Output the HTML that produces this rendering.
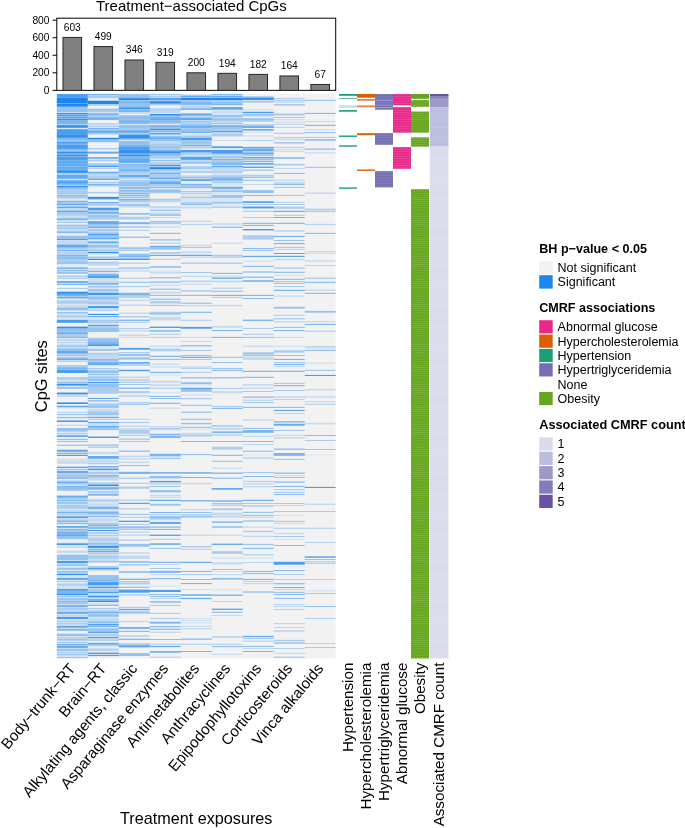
<!DOCTYPE html><html><head><meta charset="utf-8"><style>html,body{margin:0;padding:0;background:#fff;overflow:hidden;width:685px;height:828px;}svg{display:block;will-change:transform;}text{font-family:"Liberation Sans", sans-serif;fill:#000;}</style></head><body>
<svg width="685" height="828" viewBox="0 0 685 828">
<rect width="685" height="828" fill="#fff"/>
<text x="96" y="10.7" font-size="15">Treatment−associated CpGs</text>
<rect x="56.8" y="18.2" width="278.90" height="72.15" fill="none" stroke="#000" stroke-width="1"/>
<line x1="52.6" x2="56.8" y1="90.35" y2="90.35" stroke="#000" stroke-width="1"/>
<text x="49.4" y="94.00" font-size="10.2" text-anchor="end" fill="#1a1a1a">0</text>
<line x1="52.6" x2="56.8" y1="72.80" y2="72.80" stroke="#000" stroke-width="1"/>
<text x="49.4" y="76.45" font-size="10.2" text-anchor="end" fill="#1a1a1a">200</text>
<line x1="52.6" x2="56.8" y1="55.25" y2="55.25" stroke="#000" stroke-width="1"/>
<text x="49.4" y="58.90" font-size="10.2" text-anchor="end" fill="#1a1a1a">400</text>
<line x1="52.6" x2="56.8" y1="37.70" y2="37.70" stroke="#000" stroke-width="1"/>
<text x="49.4" y="41.35" font-size="10.2" text-anchor="end" fill="#1a1a1a">600</text>
<line x1="52.6" x2="56.8" y1="20.15" y2="20.15" stroke="#000" stroke-width="1"/>
<text x="49.4" y="23.80" font-size="10.2" text-anchor="end" fill="#1a1a1a">800</text>
<rect x="62.99" y="37.44" width="18.6" height="52.91" fill="#808080" stroke="#262626" stroke-width="1"/>
<text x="72.29" y="30.84" font-size="10.2" text-anchor="middle">603</text>
<rect x="93.98" y="46.56" width="18.6" height="43.79" fill="#808080" stroke="#262626" stroke-width="1"/>
<text x="103.28" y="39.96" font-size="10.2" text-anchor="middle">499</text>
<rect x="124.97" y="59.99" width="18.6" height="30.36" fill="#808080" stroke="#262626" stroke-width="1"/>
<text x="134.27" y="53.39" font-size="10.2" text-anchor="middle">346</text>
<rect x="155.96" y="62.36" width="18.6" height="27.99" fill="#808080" stroke="#262626" stroke-width="1"/>
<text x="165.26" y="55.76" font-size="10.2" text-anchor="middle">319</text>
<rect x="186.95" y="72.80" width="18.6" height="17.55" fill="#808080" stroke="#262626" stroke-width="1"/>
<text x="196.25" y="66.20" font-size="10.2" text-anchor="middle">200</text>
<rect x="217.94" y="73.33" width="18.6" height="17.02" fill="#808080" stroke="#262626" stroke-width="1"/>
<text x="227.24" y="66.73" font-size="10.2" text-anchor="middle">194</text>
<rect x="248.93" y="74.38" width="18.6" height="15.97" fill="#808080" stroke="#262626" stroke-width="1"/>
<text x="258.23" y="67.78" font-size="10.2" text-anchor="middle">182</text>
<rect x="279.92" y="75.96" width="18.6" height="14.39" fill="#808080" stroke="#262626" stroke-width="1"/>
<text x="289.22" y="69.36" font-size="10.2" text-anchor="middle">164</text>
<rect x="310.91" y="84.47" width="18.6" height="5.88" fill="#808080" stroke="#262626" stroke-width="1"/>
<text x="320.21" y="77.87" font-size="10.2" text-anchor="middle">67</text>
<rect x="56.8" y="93.7" width="278.90" height="564.80" fill="#F2F2F2"/>
<rect x="56.80" y="94.10" width="30.99" height="0.70" fill="#1C86EE"/>
<rect x="56.80" y="94.80" width="30.99" height="2.70" fill="#1C86EE" fill-opacity="0.78"/>
<rect x="56.80" y="97.50" width="30.99" height="5.50" fill="#1C86EE"/>
<rect x="56.80" y="103.00" width="30.99" height="0.70" fill="#1C86EE" fill-opacity="0.67"/>
<rect x="56.80" y="103.70" width="30.99" height="2.90" fill="#1C86EE"/>
<rect x="56.80" y="106.60" width="30.99" height="0.90" fill="#1C86EE" fill-opacity="0.56"/>
<rect x="56.80" y="107.50" width="30.99" height="4.50" fill="#1C86EE" fill-opacity="0.44"/>
<rect x="56.80" y="112.00" width="30.99" height="0.90" fill="#1C86EE" fill-opacity="0.11"/>
<rect x="56.80" y="112.90" width="30.99" height="1.10" fill="#1C86EE" fill-opacity="0.89"/>
<rect x="56.80" y="114.00" width="30.99" height="0.70" fill="#1C86EE" fill-opacity="0.44"/>
<rect x="56.80" y="114.70" width="30.99" height="1.10" fill="#1C86EE" fill-opacity="0.89"/>
<rect x="56.80" y="115.80" width="30.99" height="0.90" fill="#1C86EE" fill-opacity="0.44"/>
<rect x="56.80" y="116.70" width="30.99" height="1.20" fill="#1C86EE" fill-opacity="0.78"/>
<rect x="56.80" y="117.90" width="30.99" height="0.70" fill="#1C86EE" fill-opacity="0.33"/>
<rect x="56.80" y="118.60" width="30.99" height="1.60" fill="#1C86EE" fill-opacity="0.89"/>
<rect x="56.80" y="120.20" width="30.99" height="4.00" fill="#1C86EE" fill-opacity="0.56"/>
<rect x="56.80" y="124.20" width="30.99" height="0.90" fill="#1C86EE" fill-opacity="0.22"/>
<rect x="56.80" y="125.10" width="30.99" height="2.70" fill="#1C86EE" fill-opacity="0.89"/>
<rect x="56.80" y="127.80" width="30.99" height="1.40" fill="#1C86EE" fill-opacity="0.11"/>
<rect x="56.80" y="129.20" width="30.99" height="5.00" fill="#1C86EE" fill-opacity="0.78"/>
<rect x="56.80" y="134.20" width="30.99" height="3.60" fill="#1C86EE" fill-opacity="0.89"/>
<rect x="56.80" y="137.80" width="30.99" height="1.80" fill="#1C86EE" fill-opacity="0.56"/>
<rect x="56.80" y="139.60" width="30.99" height="2.30" fill="#1C86EE" fill-opacity="0.44"/>
<rect x="56.80" y="141.90" width="30.99" height="1.80" fill="#1C86EE" fill-opacity="0.78"/>
<rect x="56.80" y="143.70" width="30.99" height="1.30" fill="#1C86EE" fill-opacity="0.56"/>
<rect x="56.80" y="145.00" width="30.99" height="3.90" fill="#1C86EE" fill-opacity="0.78"/>
<rect x="56.80" y="148.90" width="30.99" height="0.90" fill="#1C86EE" fill-opacity="0.56"/>
<rect x="56.80" y="149.80" width="30.99" height="1.80" fill="#1C86EE" fill-opacity="0.44"/>
<rect x="56.80" y="151.60" width="30.99" height="2.00" fill="#1C86EE" fill-opacity="0.89"/>
<rect x="56.80" y="153.60" width="30.99" height="0.90" fill="#1C86EE" fill-opacity="0.44"/>
<rect x="56.80" y="154.50" width="30.99" height="1.50" fill="#1C86EE" fill-opacity="0.89"/>
<rect x="56.80" y="156.00" width="30.99" height="0.90" fill="#1C86EE" fill-opacity="0.56"/>
<rect x="56.80" y="156.90" width="30.99" height="3.30" fill="#1C86EE" fill-opacity="0.78"/>
<rect x="56.80" y="160.20" width="30.99" height="1.40" fill="#1C86EE" fill-opacity="0.67"/>
<rect x="56.80" y="161.60" width="30.99" height="1.30" fill="#1C86EE" fill-opacity="0.78"/>
<rect x="56.80" y="162.90" width="30.99" height="1.40" fill="#1C86EE" fill-opacity="0.56"/>
<rect x="56.80" y="164.30" width="30.99" height="1.30" fill="#1C86EE" fill-opacity="0.89"/>
<rect x="56.80" y="165.60" width="30.99" height="1.00" fill="#1C86EE" fill-opacity="0.56"/>
<rect x="56.80" y="166.60" width="30.99" height="1.80" fill="#1C86EE" fill-opacity="0.67"/>
<rect x="56.80" y="168.40" width="30.99" height="0.90" fill="#1C86EE" fill-opacity="0.89"/>
<rect x="56.80" y="169.30" width="30.99" height="0.90" fill="#1C86EE" fill-opacity="0.56"/>
<rect x="56.80" y="170.20" width="30.99" height="2.70" fill="#1C86EE" fill-opacity="0.89"/>
<rect x="56.80" y="172.90" width="30.99" height="0.90" fill="#1C86EE" fill-opacity="0.33"/>
<rect x="56.80" y="173.80" width="30.99" height="0.90" fill="#1C86EE" fill-opacity="0.22"/>
<rect x="56.80" y="174.70" width="30.99" height="4.10" fill="#1C86EE" fill-opacity="0.67"/>
<rect x="56.80" y="178.80" width="30.99" height="1.30" fill="#1C86EE" fill-opacity="0.11"/>
<rect x="56.80" y="180.10" width="30.99" height="1.80" fill="#1C86EE" fill-opacity="0.67"/>
<rect x="56.80" y="181.90" width="30.99" height="1.40" fill="#1C86EE" fill-opacity="0.78"/>
<rect x="56.80" y="183.30" width="30.99" height="1.40" fill="#1C86EE" fill-opacity="0.67"/>
<rect x="56.80" y="184.70" width="30.99" height="1.10" fill="#1C86EE" fill-opacity="0.22"/>
<rect x="56.80" y="185.80" width="30.99" height="1.30" fill="#1C86EE" fill-opacity="0.89"/>
<rect x="56.80" y="187.10" width="30.99" height="1.60" fill="#1C86EE" fill-opacity="0.56"/>
<rect x="56.80" y="188.70" width="30.99" height="4.60" fill="#1C86EE" fill-opacity="0.33"/>
<rect x="56.80" y="193.30" width="30.99" height="0.90" fill="#1C86EE" fill-opacity="0.44"/>
<rect x="56.80" y="194.20" width="30.99" height="0.90" fill="#1C86EE" fill-opacity="0.11"/>
<rect x="56.80" y="195.10" width="30.99" height="0.90" fill="#1C86EE" fill-opacity="0.56"/>
<rect x="56.80" y="196.00" width="30.99" height="1.30" fill="#1C86EE" fill-opacity="0.33"/>
<rect x="56.80" y="197.30" width="30.99" height="0.90" fill="#1C86EE" fill-opacity="0.44"/>
<rect x="56.80" y="198.20" width="30.99" height="2.70" fill="#1C86EE" fill-opacity="0.11"/>
<rect x="56.80" y="200.90" width="30.99" height="1.40" fill="#1C86EE" fill-opacity="0.56"/>
<rect x="56.80" y="202.30" width="30.99" height="1.40" fill="#1C86EE" fill-opacity="0.33"/>
<rect x="56.80" y="203.70" width="30.99" height="1.30" fill="#1C86EE" fill-opacity="0.67"/>
<rect x="56.80" y="205.00" width="30.99" height="1.60" fill="#1C86EE" fill-opacity="0.22"/>
<rect x="56.80" y="206.60" width="30.99" height="1.40" fill="#1C86EE" fill-opacity="0.67"/>
<rect x="56.80" y="208.00" width="30.99" height="2.70" fill="#1C86EE" fill-opacity="0.22"/>
<rect x="56.80" y="210.70" width="30.99" height="1.40" fill="#1C86EE" fill-opacity="0.67"/>
<rect x="56.80" y="212.10" width="30.99" height="3.60" fill="#1C86EE" fill-opacity="0.33"/>
<rect x="56.80" y="215.70" width="30.99" height="0.90" fill="#1C86EE" fill-opacity="0.11"/>
<rect x="56.80" y="216.60" width="30.99" height="1.80" fill="#1C86EE" fill-opacity="0.22"/>
<rect x="56.80" y="218.40" width="30.99" height="1.80" fill="#1C86EE" fill-opacity="0.56"/>
<rect x="56.80" y="220.20" width="30.99" height="1.80" fill="#1C86EE" fill-opacity="0.11"/>
<rect x="56.80" y="222.00" width="30.99" height="0.90" fill="#1C86EE" fill-opacity="0.44"/>
<rect x="56.80" y="224.70" width="30.99" height="1.40" fill="#1C86EE" fill-opacity="0.44"/>
<rect x="56.80" y="226.10" width="30.99" height="1.30" fill="#1C86EE" fill-opacity="0.22"/>
<rect x="56.80" y="227.40" width="30.99" height="1.40" fill="#1C86EE" fill-opacity="0.44"/>
<rect x="56.80" y="228.80" width="30.99" height="0.90" fill="#1C86EE" fill-opacity="0.11"/>
<rect x="56.80" y="229.70" width="30.99" height="1.80" fill="#1C86EE" fill-opacity="0.22"/>
<rect x="56.80" y="231.50" width="30.99" height="1.40" fill="#1C86EE" fill-opacity="0.56"/>
<rect x="56.80" y="232.90" width="30.99" height="1.30" fill="#1C86EE" fill-opacity="0.11"/>
<rect x="56.80" y="235.10" width="30.99" height="1.40" fill="#1C86EE" fill-opacity="0.22"/>
<rect x="56.80" y="236.50" width="30.99" height="1.30" fill="#1C86EE" fill-opacity="0.56"/>
<rect x="56.80" y="237.80" width="30.99" height="1.00" fill="#1C86EE" fill-opacity="0.33"/>
<rect x="56.80" y="238.80" width="30.99" height="1.30" fill="#1C86EE" fill-opacity="0.78"/>
<rect x="56.80" y="240.10" width="30.99" height="0.90" fill="#1C86EE" fill-opacity="0.11"/>
<rect x="56.80" y="241.00" width="30.99" height="3.60" fill="#1C86EE" fill-opacity="0.22"/>
<rect x="56.80" y="244.60" width="30.99" height="2.80" fill="#1C86EE" fill-opacity="0.67"/>
<rect x="56.80" y="247.40" width="30.99" height="1.30" fill="#1C86EE" fill-opacity="0.44"/>
<rect x="56.80" y="248.70" width="30.99" height="0.90" fill="#1C86EE" fill-opacity="0.11"/>
<rect x="56.80" y="249.60" width="30.99" height="1.40" fill="#1C86EE" fill-opacity="0.56"/>
<rect x="56.80" y="251.00" width="30.99" height="1.30" fill="#1C86EE" fill-opacity="0.22"/>
<rect x="56.80" y="252.30" width="30.99" height="1.40" fill="#1C86EE" fill-opacity="0.33"/>
<rect x="56.80" y="253.70" width="30.99" height="0.90" fill="#1C86EE" fill-opacity="0.11"/>
<rect x="56.80" y="254.60" width="30.99" height="1.80" fill="#1C86EE" fill-opacity="0.56"/>
<rect x="56.80" y="256.40" width="30.99" height="1.60" fill="#1C86EE" fill-opacity="0.44"/>
<rect x="56.80" y="258.00" width="30.99" height="0.90" fill="#1C86EE" fill-opacity="0.56"/>
<rect x="56.80" y="258.90" width="30.99" height="3.20" fill="#1C86EE" fill-opacity="0.33"/>
<rect x="56.80" y="262.10" width="30.99" height="1.80" fill="#1C86EE" fill-opacity="0.44"/>
<rect x="56.80" y="263.90" width="30.99" height="1.30" fill="#1C86EE" fill-opacity="0.11"/>
<rect x="56.80" y="266.60" width="30.99" height="0.90" fill="#1C86EE" fill-opacity="0.22"/>
<rect x="56.80" y="267.50" width="30.99" height="1.40" fill="#1C86EE" fill-opacity="0.56"/>
<rect x="56.80" y="268.90" width="30.99" height="0.90" fill="#1C86EE" fill-opacity="0.11"/>
<rect x="56.80" y="269.80" width="30.99" height="1.30" fill="#1C86EE" fill-opacity="0.44"/>
<rect x="56.80" y="271.10" width="30.99" height="0.90" fill="#1C86EE" fill-opacity="0.22"/>
<rect x="56.80" y="272.00" width="30.99" height="1.80" fill="#1C86EE" fill-opacity="0.44"/>
<rect x="56.80" y="275.60" width="30.99" height="1.40" fill="#1C86EE" fill-opacity="0.33"/>
<rect x="56.80" y="277.00" width="30.99" height="0.90" fill="#1C86EE" fill-opacity="0.11"/>
<rect x="56.80" y="277.90" width="30.99" height="1.10" fill="#1C86EE" fill-opacity="0.33"/>
<rect x="56.80" y="281.10" width="30.99" height="1.80" fill="#1C86EE" fill-opacity="0.67"/>
<rect x="56.80" y="282.90" width="30.99" height="0.90" fill="#1C86EE" fill-opacity="0.11"/>
<rect x="56.80" y="283.80" width="30.99" height="1.20" fill="#1C86EE" fill-opacity="0.56"/>
<rect x="56.80" y="287.90" width="30.99" height="1.10" fill="#1C86EE" fill-opacity="0.33"/>
<rect x="56.80" y="291.70" width="30.99" height="2.10" fill="#1C86EE" fill-opacity="0.89"/>
<rect x="56.80" y="293.80" width="30.99" height="2.00" fill="#1C86EE" fill-opacity="0.67"/>
<rect x="56.80" y="295.80" width="30.99" height="0.90" fill="#1C86EE" fill-opacity="0.22"/>
<rect x="56.80" y="296.70" width="30.99" height="1.60" fill="#1C86EE" fill-opacity="0.67"/>
<rect x="56.80" y="298.30" width="30.99" height="2.20" fill="#1C86EE" fill-opacity="0.11"/>
<rect x="56.80" y="300.50" width="30.99" height="3.20" fill="#1C86EE" fill-opacity="0.33"/>
<rect x="56.80" y="303.70" width="30.99" height="1.40" fill="#1C86EE" fill-opacity="0.11"/>
<rect x="56.80" y="305.10" width="30.99" height="1.30" fill="#1C86EE" fill-opacity="0.22"/>
<rect x="56.80" y="306.40" width="30.99" height="0.90" fill="#1C86EE" fill-opacity="0.11"/>
<rect x="56.80" y="307.30" width="30.99" height="3.20" fill="#1C86EE" fill-opacity="0.44"/>
<rect x="56.80" y="311.90" width="30.99" height="1.10" fill="#1C86EE" fill-opacity="0.44"/>
<rect x="56.80" y="313.00" width="30.99" height="0.90" fill="#1C86EE" fill-opacity="0.33"/>
<rect x="56.80" y="313.90" width="30.99" height="1.40" fill="#1C86EE" fill-opacity="0.11"/>
<rect x="56.80" y="315.30" width="30.99" height="2.20" fill="#1C86EE" fill-opacity="0.33"/>
<rect x="56.80" y="317.50" width="30.99" height="2.30" fill="#1C86EE" fill-opacity="0.11"/>
<rect x="56.80" y="319.80" width="30.99" height="3.00" fill="#1C86EE" fill-opacity="0.78"/>
<rect x="56.80" y="326.60" width="30.99" height="1.80" fill="#1C86EE" fill-opacity="0.89"/>
<rect x="56.80" y="328.40" width="30.99" height="4.10" fill="#1C86EE" fill-opacity="0.44"/>
<rect x="56.80" y="332.50" width="30.99" height="1.50" fill="#1C86EE" fill-opacity="0.67"/>
<rect x="56.80" y="334.00" width="30.99" height="2.70" fill="#1C86EE" fill-opacity="0.33"/>
<rect x="56.80" y="336.70" width="30.99" height="1.20" fill="#1C86EE" fill-opacity="0.56"/>
<rect x="56.80" y="337.90" width="30.99" height="1.30" fill="#1C86EE" fill-opacity="0.11"/>
<rect x="56.80" y="339.20" width="30.99" height="1.90" fill="#1C86EE" fill-opacity="0.22"/>
<rect x="56.80" y="341.10" width="30.99" height="0.90" fill="#1C86EE" fill-opacity="0.11"/>
<rect x="56.80" y="342.00" width="30.99" height="0.90" fill="#1C86EE" fill-opacity="0.22"/>
<rect x="56.80" y="342.90" width="30.99" height="1.30" fill="#1C86EE" fill-opacity="0.11"/>
<rect x="56.80" y="344.20" width="30.99" height="1.40" fill="#1C86EE" fill-opacity="0.22"/>
<rect x="56.80" y="345.60" width="30.99" height="1.30" fill="#1C86EE" fill-opacity="0.44"/>
<rect x="56.80" y="346.90" width="30.99" height="0.90" fill="#1C86EE" fill-opacity="0.11"/>
<rect x="56.80" y="347.80" width="30.99" height="1.00" fill="#1C86EE" fill-opacity="0.33"/>
<rect x="56.80" y="348.80" width="30.99" height="1.80" fill="#1C86EE" fill-opacity="0.44"/>
<rect x="56.80" y="350.60" width="30.99" height="3.10" fill="#1C86EE" fill-opacity="0.67"/>
<rect x="56.80" y="353.70" width="30.99" height="0.90" fill="#1C86EE" fill-opacity="0.11"/>
<rect x="56.80" y="354.60" width="30.99" height="1.40" fill="#1C86EE" fill-opacity="0.44"/>
<rect x="56.80" y="356.00" width="30.99" height="0.90" fill="#1C86EE" fill-opacity="0.11"/>
<rect x="56.80" y="356.90" width="30.99" height="1.40" fill="#1C86EE" fill-opacity="0.33"/>
<rect x="56.80" y="358.30" width="30.99" height="1.80" fill="#1C86EE" fill-opacity="0.67"/>
<rect x="56.80" y="360.10" width="30.99" height="0.90" fill="#1C86EE" fill-opacity="0.11"/>
<rect x="56.80" y="361.00" width="30.99" height="0.90" fill="#1C86EE" fill-opacity="0.33"/>
<rect x="56.80" y="365.00" width="30.99" height="2.30" fill="#1C86EE" fill-opacity="0.33"/>
<rect x="56.80" y="367.30" width="30.99" height="1.80" fill="#1C86EE" fill-opacity="0.56"/>
<rect x="56.80" y="369.10" width="30.99" height="0.90" fill="#1C86EE" fill-opacity="0.44"/>
<rect x="56.80" y="370.00" width="30.99" height="3.00" fill="#1C86EE" fill-opacity="0.78"/>
<rect x="56.80" y="377.10" width="30.99" height="2.70" fill="#1C86EE" fill-opacity="0.33"/>
<rect x="56.80" y="379.80" width="30.99" height="1.80" fill="#1C86EE" fill-opacity="0.11"/>
<rect x="56.80" y="381.60" width="30.99" height="1.30" fill="#1C86EE" fill-opacity="0.44"/>
<rect x="56.80" y="382.90" width="30.99" height="0.90" fill="#1C86EE" fill-opacity="0.22"/>
<rect x="56.80" y="383.80" width="30.99" height="1.80" fill="#1C86EE" fill-opacity="0.89"/>
<rect x="56.80" y="385.60" width="30.99" height="1.40" fill="#1C86EE" fill-opacity="0.11"/>
<rect x="56.80" y="387.00" width="30.99" height="1.80" fill="#1C86EE" fill-opacity="0.44"/>
<rect x="56.80" y="392.60" width="30.99" height="1.60" fill="#1C86EE" fill-opacity="0.89"/>
<rect x="56.80" y="394.20" width="30.99" height="2.80" fill="#1C86EE" fill-opacity="0.22"/>
<rect x="56.80" y="402.40" width="30.99" height="1.60" fill="#1C86EE" fill-opacity="0.89"/>
<rect x="56.80" y="405.80" width="30.99" height="1.10" fill="#1C86EE" fill-opacity="0.78"/>
<rect x="56.80" y="406.90" width="30.99" height="1.40" fill="#1C86EE" fill-opacity="0.22"/>
<rect x="56.80" y="411.90" width="30.99" height="0.90" fill="#1C86EE" fill-opacity="0.33"/>
<rect x="56.80" y="414.00" width="30.99" height="1.10" fill="#1C86EE" fill-opacity="0.44"/>
<rect x="56.80" y="416.90" width="30.99" height="1.30" fill="#1C86EE" fill-opacity="0.44"/>
<rect x="56.80" y="420.50" width="30.99" height="1.40" fill="#1C86EE" fill-opacity="0.89"/>
<rect x="56.80" y="424.80" width="30.99" height="0.90" fill="#1C86EE" fill-opacity="0.33"/>
<rect x="56.80" y="428.00" width="30.99" height="3.60" fill="#1C86EE" fill-opacity="0.44"/>
<rect x="56.80" y="432.80" width="30.99" height="1.20" fill="#1C86EE" fill-opacity="0.33"/>
<rect x="56.80" y="434.00" width="30.99" height="1.20" fill="#1C86EE" fill-opacity="0.11"/>
<rect x="56.80" y="435.20" width="30.99" height="1.80" fill="#1C86EE" fill-opacity="0.67"/>
<rect x="56.80" y="438.80" width="30.99" height="1.20" fill="#1C86EE" fill-opacity="0.44"/>
<rect x="56.80" y="440.90" width="30.99" height="1.10" fill="#1C86EE" fill-opacity="0.44"/>
<rect x="56.80" y="444.70" width="30.99" height="1.10" fill="#1C86EE" fill-opacity="0.44"/>
<rect x="56.80" y="449.70" width="30.99" height="2.10" fill="#1C86EE" fill-opacity="0.67"/>
<rect x="56.80" y="451.80" width="30.99" height="1.10" fill="#1C86EE" fill-opacity="0.11"/>
<rect x="56.80" y="452.90" width="30.99" height="0.90" fill="#1C86EE" fill-opacity="0.67"/>
<rect x="56.80" y="453.80" width="30.99" height="1.10" fill="#1C86EE" fill-opacity="0.11"/>
<rect x="56.80" y="454.90" width="30.99" height="1.10" fill="#1C86EE" fill-opacity="0.78"/>
<rect x="56.80" y="458.80" width="30.99" height="0.90" fill="#1C86EE" fill-opacity="0.22"/>
<rect x="56.80" y="459.70" width="30.99" height="1.30" fill="#1C86EE" fill-opacity="0.11"/>
<rect x="56.80" y="461.00" width="30.99" height="2.70" fill="#1C86EE" fill-opacity="0.22"/>
<rect x="56.80" y="466.60" width="30.99" height="1.40" fill="#1C86EE" fill-opacity="0.67"/>
<rect x="56.80" y="468.00" width="30.99" height="1.20" fill="#1C86EE" fill-opacity="0.11"/>
<rect x="56.80" y="469.20" width="30.99" height="0.90" fill="#1C86EE" fill-opacity="0.44"/>
<rect x="56.80" y="470.10" width="30.99" height="0.90" fill="#1C86EE" fill-opacity="0.11"/>
<rect x="56.80" y="471.00" width="30.99" height="2.20" fill="#1C86EE" fill-opacity="0.67"/>
<rect x="56.80" y="473.20" width="30.99" height="1.40" fill="#1C86EE" fill-opacity="0.22"/>
<rect x="56.80" y="474.60" width="30.99" height="1.80" fill="#1C86EE" fill-opacity="0.44"/>
<rect x="56.80" y="476.40" width="30.99" height="0.90" fill="#1C86EE" fill-opacity="0.22"/>
<rect x="56.80" y="477.30" width="30.99" height="0.70" fill="#1C86EE" fill-opacity="0.67"/>
<rect x="56.80" y="478.00" width="30.99" height="0.90" fill="#1C86EE" fill-opacity="0.44"/>
<rect x="56.80" y="478.90" width="30.99" height="1.40" fill="#1C86EE" fill-opacity="0.11"/>
<rect x="56.80" y="480.30" width="30.99" height="1.30" fill="#1C86EE" fill-opacity="0.22"/>
<rect x="56.80" y="481.60" width="30.99" height="1.40" fill="#1C86EE" fill-opacity="0.67"/>
<rect x="56.80" y="483.00" width="30.99" height="1.80" fill="#1C86EE" fill-opacity="0.33"/>
<rect x="56.80" y="484.80" width="30.99" height="1.20" fill="#1C86EE" fill-opacity="0.11"/>
<rect x="56.80" y="486.00" width="30.99" height="1.50" fill="#1C86EE" fill-opacity="0.56"/>
<rect x="56.80" y="487.50" width="30.99" height="3.20" fill="#1C86EE" fill-opacity="0.44"/>
<rect x="56.80" y="495.60" width="30.99" height="1.90" fill="#1C86EE" fill-opacity="0.67"/>
<rect x="56.80" y="497.50" width="30.99" height="1.30" fill="#1C86EE" fill-opacity="0.44"/>
<rect x="56.80" y="498.80" width="30.99" height="0.90" fill="#1C86EE" fill-opacity="0.11"/>
<rect x="56.80" y="499.70" width="30.99" height="1.40" fill="#1C86EE" fill-opacity="0.56"/>
<rect x="56.80" y="501.10" width="30.99" height="0.90" fill="#1C86EE" fill-opacity="0.11"/>
<rect x="56.80" y="502.00" width="30.99" height="1.80" fill="#1C86EE" fill-opacity="0.44"/>
<rect x="56.80" y="503.80" width="30.99" height="0.90" fill="#1C86EE" fill-opacity="0.11"/>
<rect x="56.80" y="504.70" width="30.99" height="4.10" fill="#1C86EE" fill-opacity="0.33"/>
<rect x="56.80" y="508.80" width="30.99" height="1.30" fill="#1C86EE" fill-opacity="0.11"/>
<rect x="56.80" y="510.10" width="30.99" height="1.80" fill="#1C86EE" fill-opacity="0.22"/>
<rect x="56.80" y="511.90" width="30.99" height="1.40" fill="#1C86EE" fill-opacity="0.56"/>
<rect x="56.80" y="513.30" width="30.99" height="3.20" fill="#1C86EE" fill-opacity="0.22"/>
<rect x="56.80" y="516.50" width="30.99" height="1.30" fill="#1C86EE" fill-opacity="0.89"/>
<rect x="56.80" y="517.80" width="30.99" height="2.70" fill="#1C86EE" fill-opacity="0.22"/>
<rect x="56.80" y="520.50" width="30.99" height="1.40" fill="#1C86EE" fill-opacity="0.56"/>
<rect x="56.80" y="521.90" width="30.99" height="0.90" fill="#1C86EE" fill-opacity="0.11"/>
<rect x="56.80" y="522.80" width="30.99" height="0.90" fill="#1C86EE" fill-opacity="0.67"/>
<rect x="56.80" y="523.70" width="30.99" height="0.90" fill="#1C86EE" fill-opacity="0.11"/>
<rect x="56.80" y="526.00" width="30.99" height="1.80" fill="#1C86EE" fill-opacity="0.67"/>
<rect x="56.80" y="527.80" width="30.99" height="1.10" fill="#1C86EE" fill-opacity="0.11"/>
<rect x="56.80" y="528.90" width="30.99" height="1.10" fill="#1C86EE" fill-opacity="0.56"/>
<rect x="56.80" y="530.00" width="30.99" height="1.40" fill="#1C86EE" fill-opacity="0.33"/>
<rect x="56.80" y="531.40" width="30.99" height="3.60" fill="#1C86EE" fill-opacity="0.56"/>
<rect x="56.80" y="535.00" width="30.99" height="1.20" fill="#1C86EE" fill-opacity="0.67"/>
<rect x="56.80" y="536.20" width="30.99" height="2.70" fill="#1C86EE" fill-opacity="0.44"/>
<rect x="56.80" y="538.90" width="30.99" height="1.30" fill="#1C86EE" fill-opacity="0.11"/>
<rect x="56.80" y="541.60" width="30.99" height="1.80" fill="#1C86EE" fill-opacity="0.11"/>
<rect x="56.80" y="543.40" width="30.99" height="1.50" fill="#1C86EE" fill-opacity="0.89"/>
<rect x="56.80" y="544.90" width="30.99" height="1.70" fill="#1C86EE" fill-opacity="0.11"/>
<rect x="56.80" y="546.60" width="30.99" height="1.30" fill="#1C86EE" fill-opacity="0.22"/>
<rect x="56.80" y="550.60" width="30.99" height="2.30" fill="#1C86EE" fill-opacity="0.22"/>
<rect x="56.80" y="554.70" width="30.99" height="5.50" fill="#1C86EE" fill-opacity="0.44"/>
<rect x="56.80" y="560.20" width="30.99" height="0.90" fill="#1C86EE" fill-opacity="0.11"/>
<rect x="56.80" y="561.10" width="30.99" height="1.80" fill="#1C86EE" fill-opacity="0.89"/>
<rect x="56.80" y="562.90" width="30.99" height="1.30" fill="#1C86EE" fill-opacity="0.22"/>
<rect x="56.80" y="564.20" width="30.99" height="1.60" fill="#1C86EE" fill-opacity="0.44"/>
<rect x="56.80" y="565.80" width="30.99" height="2.00" fill="#1C86EE" fill-opacity="0.11"/>
<rect x="56.80" y="567.80" width="30.99" height="1.90" fill="#1C86EE" fill-opacity="0.44"/>
<rect x="56.80" y="569.70" width="30.99" height="1.30" fill="#1C86EE" fill-opacity="0.11"/>
<rect x="56.80" y="571.00" width="30.99" height="1.80" fill="#1C86EE" fill-opacity="0.44"/>
<rect x="56.80" y="572.80" width="30.99" height="0.90" fill="#1C86EE" fill-opacity="0.11"/>
<rect x="56.80" y="573.70" width="30.99" height="1.40" fill="#1C86EE" fill-opacity="0.89"/>
<rect x="56.80" y="575.10" width="30.99" height="2.70" fill="#1C86EE" fill-opacity="0.11"/>
<rect x="56.80" y="577.80" width="30.99" height="2.10" fill="#1C86EE" fill-opacity="0.67"/>
<rect x="56.80" y="579.90" width="30.99" height="1.10" fill="#1C86EE" fill-opacity="0.11"/>
<rect x="56.80" y="581.00" width="30.99" height="0.90" fill="#1C86EE" fill-opacity="0.33"/>
<rect x="56.80" y="581.90" width="30.99" height="1.80" fill="#1C86EE" fill-opacity="0.11"/>
<rect x="56.80" y="583.70" width="30.99" height="1.30" fill="#1C86EE" fill-opacity="0.33"/>
<rect x="56.80" y="585.00" width="30.99" height="1.90" fill="#1C86EE" fill-opacity="0.22"/>
<rect x="56.80" y="586.90" width="30.99" height="2.00" fill="#1C86EE" fill-opacity="0.11"/>
<rect x="56.80" y="588.90" width="30.99" height="1.80" fill="#1C86EE" fill-opacity="0.78"/>
<rect x="56.80" y="590.70" width="30.99" height="2.90" fill="#1C86EE" fill-opacity="0.56"/>
<rect x="56.80" y="593.60" width="30.99" height="1.50" fill="#1C86EE" fill-opacity="0.89"/>
<rect x="56.80" y="595.10" width="30.99" height="0.90" fill="#1C86EE" fill-opacity="0.11"/>
<rect x="56.80" y="596.00" width="30.99" height="1.10" fill="#1C86EE" fill-opacity="0.44"/>
<rect x="56.80" y="597.10" width="30.99" height="1.00" fill="#1C86EE" fill-opacity="0.11"/>
<rect x="56.80" y="598.10" width="30.99" height="1.80" fill="#1C86EE" fill-opacity="0.44"/>
<rect x="56.80" y="599.90" width="30.99" height="1.00" fill="#1C86EE" fill-opacity="0.22"/>
<rect x="56.80" y="600.90" width="30.99" height="1.40" fill="#1C86EE" fill-opacity="0.56"/>
<rect x="56.80" y="602.30" width="30.99" height="0.60" fill="#1C86EE" fill-opacity="0.22"/>
<rect x="56.80" y="602.90" width="30.99" height="1.20" fill="#1C86EE" fill-opacity="0.44"/>
<rect x="56.80" y="604.10" width="30.99" height="0.90" fill="#1C86EE" fill-opacity="0.11"/>
<rect x="56.80" y="605.00" width="30.99" height="2.00" fill="#1C86EE" fill-opacity="0.56"/>
<rect x="56.80" y="607.00" width="30.99" height="0.90" fill="#1C86EE" fill-opacity="0.22"/>
<rect x="56.80" y="607.90" width="30.99" height="2.70" fill="#1C86EE" fill-opacity="0.33"/>
<rect x="56.80" y="610.60" width="30.99" height="1.10" fill="#1C86EE" fill-opacity="0.11"/>
<rect x="56.80" y="611.70" width="30.99" height="2.10" fill="#1C86EE" fill-opacity="0.67"/>
<rect x="56.80" y="613.80" width="30.99" height="0.90" fill="#1C86EE" fill-opacity="0.11"/>
<rect x="56.80" y="614.70" width="30.99" height="2.30" fill="#1C86EE" fill-opacity="0.22"/>
<rect x="56.80" y="617.00" width="30.99" height="2.00" fill="#1C86EE" fill-opacity="0.78"/>
<rect x="56.80" y="619.00" width="30.99" height="1.60" fill="#1C86EE" fill-opacity="0.11"/>
<rect x="56.80" y="620.60" width="30.99" height="1.30" fill="#1C86EE" fill-opacity="0.33"/>
<rect x="56.80" y="621.90" width="30.99" height="0.90" fill="#1C86EE" fill-opacity="0.11"/>
<rect x="56.80" y="622.80" width="30.99" height="1.60" fill="#1C86EE" fill-opacity="0.33"/>
<rect x="56.80" y="624.40" width="30.99" height="1.40" fill="#1C86EE" fill-opacity="0.11"/>
<rect x="56.80" y="625.80" width="30.99" height="2.00" fill="#1C86EE" fill-opacity="0.67"/>
<rect x="56.80" y="627.80" width="30.99" height="1.10" fill="#1C86EE" fill-opacity="0.11"/>
<rect x="56.80" y="628.90" width="30.99" height="1.80" fill="#1C86EE" fill-opacity="0.56"/>
<rect x="56.80" y="633.70" width="30.99" height="2.30" fill="#1C86EE" fill-opacity="0.44"/>
<rect x="56.80" y="636.00" width="30.99" height="0.90" fill="#1C86EE" fill-opacity="0.11"/>
<rect x="56.80" y="636.90" width="30.99" height="1.30" fill="#1C86EE" fill-opacity="0.33"/>
<rect x="56.80" y="638.20" width="30.99" height="0.70" fill="#1C86EE" fill-opacity="0.11"/>
<rect x="56.80" y="638.90" width="30.99" height="1.60" fill="#1C86EE" fill-opacity="0.44"/>
<rect x="56.80" y="640.50" width="30.99" height="1.40" fill="#1C86EE" fill-opacity="0.11"/>
<rect x="56.80" y="641.90" width="30.99" height="1.30" fill="#1C86EE" fill-opacity="0.33"/>
<rect x="56.80" y="643.20" width="30.99" height="0.90" fill="#1C86EE" fill-opacity="0.11"/>
<rect x="56.80" y="644.10" width="30.99" height="1.10" fill="#1C86EE" fill-opacity="0.67"/>
<rect x="56.80" y="645.20" width="30.99" height="0.70" fill="#1C86EE" fill-opacity="0.22"/>
<rect x="56.80" y="645.90" width="30.99" height="2.00" fill="#1C86EE" fill-opacity="0.67"/>
<rect x="56.80" y="647.90" width="30.99" height="0.90" fill="#1C86EE" fill-opacity="0.11"/>
<rect x="56.80" y="648.80" width="30.99" height="2.10" fill="#1C86EE" fill-opacity="0.44"/>
<rect x="56.80" y="650.90" width="30.99" height="0.90" fill="#1C86EE" fill-opacity="0.11"/>
<rect x="56.80" y="651.80" width="30.99" height="1.20" fill="#1C86EE" fill-opacity="0.33"/>
<rect x="56.80" y="653.00" width="30.99" height="0.90" fill="#1C86EE" fill-opacity="0.11"/>
<rect x="56.80" y="653.90" width="30.99" height="1.30" fill="#1C86EE" fill-opacity="0.44"/>
<rect x="56.80" y="655.20" width="30.99" height="1.80" fill="#1C86EE" fill-opacity="0.11"/>
<rect x="56.80" y="657.00" width="30.99" height="1.10" fill="#1C86EE" fill-opacity="0.44"/>
<rect x="87.79" y="94.10" width="30.99" height="0.90" fill="#1C86EE" fill-opacity="0.67"/>
<rect x="87.79" y="95.00" width="30.99" height="0.90" fill="#1C86EE" fill-opacity="0.22"/>
<rect x="87.79" y="95.90" width="30.99" height="0.70" fill="#1C86EE" fill-opacity="0.44"/>
<rect x="87.79" y="96.60" width="30.99" height="0.90" fill="#1C86EE" fill-opacity="0.33"/>
<rect x="87.79" y="97.50" width="30.99" height="0.70" fill="#1C86EE" fill-opacity="0.44"/>
<rect x="87.79" y="100.70" width="30.99" height="3.30" fill="#1C86EE"/>
<rect x="87.79" y="104.00" width="30.99" height="1.70" fill="#1C86EE" fill-opacity="0.33"/>
<rect x="87.79" y="108.80" width="30.99" height="0.90" fill="#1C86EE" fill-opacity="0.56"/>
<rect x="87.79" y="109.70" width="30.99" height="2.30" fill="#1C86EE" fill-opacity="0.33"/>
<rect x="87.79" y="112.70" width="30.99" height="1.30" fill="#1C86EE" fill-opacity="0.44"/>
<rect x="87.79" y="114.00" width="30.99" height="1.20" fill="#1C86EE" fill-opacity="0.56"/>
<rect x="87.79" y="115.20" width="30.99" height="1.20" fill="#1C86EE" fill-opacity="0.33"/>
<rect x="87.79" y="116.40" width="30.99" height="1.90" fill="#1C86EE" fill-opacity="0.44"/>
<rect x="87.79" y="118.30" width="30.99" height="1.40" fill="#1C86EE" fill-opacity="0.78"/>
<rect x="87.79" y="123.30" width="30.99" height="1.40" fill="#1C86EE" fill-opacity="0.33"/>
<rect x="87.79" y="125.60" width="30.99" height="1.30" fill="#1C86EE" fill-opacity="0.33"/>
<rect x="87.79" y="127.80" width="30.99" height="1.40" fill="#1C86EE" fill-opacity="0.56"/>
<rect x="87.79" y="129.20" width="30.99" height="1.40" fill="#1C86EE" fill-opacity="0.33"/>
<rect x="87.79" y="130.60" width="30.99" height="2.20" fill="#1C86EE" fill-opacity="0.67"/>
<rect x="87.79" y="132.80" width="30.99" height="1.80" fill="#1C86EE" fill-opacity="0.33"/>
<rect x="87.79" y="137.80" width="30.99" height="1.40" fill="#1C86EE"/>
<rect x="87.79" y="139.20" width="30.99" height="3.10" fill="#1C86EE" fill-opacity="0.44"/>
<rect x="87.79" y="148.00" width="30.99" height="1.40" fill="#1C86EE" fill-opacity="0.33"/>
<rect x="87.79" y="151.60" width="30.99" height="2.00" fill="#1C86EE" fill-opacity="0.67"/>
<rect x="87.79" y="157.10" width="30.99" height="1.60" fill="#1C86EE" fill-opacity="0.67"/>
<rect x="87.79" y="158.70" width="30.99" height="1.10" fill="#1C86EE" fill-opacity="0.11"/>
<rect x="87.79" y="159.80" width="30.99" height="1.60" fill="#1C86EE" fill-opacity="0.33"/>
<rect x="87.79" y="163.20" width="30.99" height="1.10" fill="#1C86EE" fill-opacity="0.33"/>
<rect x="87.79" y="164.30" width="30.99" height="1.60" fill="#1C86EE" fill-opacity="0.44"/>
<rect x="87.79" y="165.90" width="30.99" height="1.10" fill="#1C86EE" fill-opacity="0.78"/>
<rect x="87.79" y="167.00" width="30.99" height="1.10" fill="#1C86EE" fill-opacity="0.11"/>
<rect x="87.79" y="168.10" width="30.99" height="0.90" fill="#1C86EE" fill-opacity="0.33"/>
<rect x="87.79" y="171.70" width="30.99" height="1.20" fill="#1C86EE" fill-opacity="0.67"/>
<rect x="87.79" y="172.90" width="30.99" height="1.80" fill="#1C86EE" fill-opacity="0.33"/>
<rect x="87.79" y="174.70" width="30.99" height="1.40" fill="#1C86EE" fill-opacity="0.22"/>
<rect x="87.79" y="176.10" width="30.99" height="2.70" fill="#1C86EE" fill-opacity="0.33"/>
<rect x="87.79" y="178.80" width="30.99" height="1.10" fill="#1C86EE" fill-opacity="0.78"/>
<rect x="87.79" y="181.70" width="30.99" height="1.60" fill="#1C86EE" fill-opacity="0.33"/>
<rect x="87.79" y="183.30" width="30.99" height="0.70" fill="#1C86EE" fill-opacity="0.11"/>
<rect x="87.79" y="184.00" width="30.99" height="1.10" fill="#1C86EE" fill-opacity="0.56"/>
<rect x="87.79" y="185.10" width="30.99" height="1.40" fill="#1C86EE" fill-opacity="0.33"/>
<rect x="87.79" y="191.90" width="30.99" height="1.40" fill="#1C86EE" fill-opacity="0.33"/>
<rect x="87.79" y="196.90" width="30.99" height="1.80" fill="#1C86EE"/>
<rect x="87.79" y="198.70" width="30.99" height="1.30" fill="#1C86EE" fill-opacity="0.33"/>
<rect x="87.79" y="201.90" width="30.99" height="1.10" fill="#1C86EE" fill-opacity="0.56"/>
<rect x="87.79" y="203.00" width="30.99" height="2.30" fill="#1C86EE" fill-opacity="0.33"/>
<rect x="87.79" y="205.30" width="30.99" height="0.90" fill="#1C86EE" fill-opacity="0.22"/>
<rect x="87.79" y="207.70" width="30.99" height="2.40" fill="#1C86EE" fill-opacity="0.78"/>
<rect x="87.79" y="210.10" width="30.99" height="2.00" fill="#1C86EE" fill-opacity="0.33"/>
<rect x="87.79" y="212.10" width="30.99" height="1.60" fill="#1C86EE" fill-opacity="0.67"/>
<rect x="87.79" y="213.70" width="30.99" height="1.50" fill="#1C86EE" fill-opacity="0.22"/>
<rect x="87.79" y="215.20" width="30.99" height="1.80" fill="#1C86EE" fill-opacity="0.44"/>
<rect x="87.79" y="217.00" width="30.99" height="2.70" fill="#1C86EE" fill-opacity="0.33"/>
<rect x="87.79" y="221.10" width="30.99" height="2.90" fill="#1C86EE" fill-opacity="0.67"/>
<rect x="87.79" y="224.00" width="30.99" height="1.20" fill="#1C86EE" fill-opacity="0.44"/>
<rect x="87.79" y="225.20" width="30.99" height="1.30" fill="#1C86EE" fill-opacity="0.33"/>
<rect x="87.79" y="226.50" width="30.99" height="1.40" fill="#1C86EE" fill-opacity="0.67"/>
<rect x="87.79" y="227.90" width="30.99" height="1.30" fill="#1C86EE" fill-opacity="0.11"/>
<rect x="87.79" y="229.20" width="30.99" height="1.40" fill="#1C86EE" fill-opacity="0.44"/>
<rect x="87.79" y="230.60" width="30.99" height="1.40" fill="#1C86EE" fill-opacity="0.22"/>
<rect x="87.79" y="232.00" width="30.99" height="1.80" fill="#1C86EE" fill-opacity="0.33"/>
<rect x="87.79" y="233.80" width="30.99" height="1.30" fill="#1C86EE" fill-opacity="0.78"/>
<rect x="87.79" y="235.10" width="30.99" height="2.70" fill="#1C86EE" fill-opacity="0.44"/>
<rect x="87.79" y="237.80" width="30.99" height="1.40" fill="#1C86EE" fill-opacity="0.67"/>
<rect x="87.79" y="239.20" width="30.99" height="2.30" fill="#1C86EE" fill-opacity="0.11"/>
<rect x="87.79" y="241.50" width="30.99" height="1.80" fill="#1C86EE" fill-opacity="0.67"/>
<rect x="87.79" y="243.30" width="30.99" height="1.50" fill="#1C86EE" fill-opacity="0.11"/>
<rect x="87.79" y="244.80" width="30.99" height="2.10" fill="#1C86EE" fill-opacity="0.44"/>
<rect x="87.79" y="246.90" width="30.99" height="1.40" fill="#1C86EE" fill-opacity="0.33"/>
<rect x="87.79" y="248.30" width="30.99" height="1.00" fill="#1C86EE" fill-opacity="0.11"/>
<rect x="87.79" y="249.30" width="30.99" height="1.70" fill="#1C86EE" fill-opacity="0.33"/>
<rect x="87.79" y="251.00" width="30.99" height="0.90" fill="#1C86EE" fill-opacity="0.22"/>
<rect x="87.79" y="251.90" width="30.99" height="1.30" fill="#1C86EE" fill-opacity="0.89"/>
<rect x="87.79" y="253.20" width="30.99" height="1.40" fill="#1C86EE" fill-opacity="0.11"/>
<rect x="87.79" y="256.40" width="30.99" height="1.40" fill="#1C86EE" fill-opacity="0.33"/>
<rect x="87.79" y="257.80" width="30.99" height="0.20" fill="#1C86EE" fill-opacity="0.22"/>
<rect x="87.79" y="258.00" width="30.99" height="0.70" fill="#1C86EE" fill-opacity="0.11"/>
<rect x="87.79" y="258.70" width="30.99" height="1.30" fill="#1C86EE" fill-opacity="0.89"/>
<rect x="87.79" y="261.80" width="30.99" height="1.60" fill="#1C86EE" fill-opacity="0.33"/>
<rect x="87.79" y="263.40" width="30.99" height="2.30" fill="#1C86EE" fill-opacity="0.22"/>
<rect x="87.79" y="268.00" width="30.99" height="1.30" fill="#1C86EE" fill-opacity="0.22"/>
<rect x="87.79" y="269.30" width="30.99" height="1.60" fill="#1C86EE" fill-opacity="0.11"/>
<rect x="87.79" y="270.90" width="30.99" height="1.10" fill="#1C86EE" fill-opacity="0.56"/>
<rect x="87.79" y="272.00" width="30.99" height="1.80" fill="#1C86EE" fill-opacity="0.11"/>
<rect x="87.79" y="273.80" width="30.99" height="1.80" fill="#1C86EE" fill-opacity="0.56"/>
<rect x="87.79" y="275.60" width="30.99" height="2.30" fill="#1C86EE" fill-opacity="0.78"/>
<rect x="87.79" y="277.90" width="30.99" height="1.40" fill="#1C86EE" fill-opacity="0.22"/>
<rect x="87.79" y="279.30" width="30.99" height="1.30" fill="#1C86EE" fill-opacity="0.11"/>
<rect x="87.79" y="280.60" width="30.99" height="2.30" fill="#1C86EE" fill-opacity="0.22"/>
<rect x="87.79" y="282.90" width="30.99" height="1.80" fill="#1C86EE" fill-opacity="0.56"/>
<rect x="87.79" y="284.70" width="30.99" height="1.40" fill="#1C86EE" fill-opacity="0.11"/>
<rect x="87.79" y="286.10" width="30.99" height="1.30" fill="#1C86EE" fill-opacity="0.44"/>
<rect x="87.79" y="287.40" width="30.99" height="1.80" fill="#1C86EE" fill-opacity="0.11"/>
<rect x="87.79" y="289.20" width="30.99" height="2.30" fill="#1C86EE" fill-opacity="0.44"/>
<rect x="87.79" y="291.50" width="30.99" height="1.30" fill="#1C86EE" fill-opacity="0.11"/>
<rect x="87.79" y="292.80" width="30.99" height="2.10" fill="#1C86EE" fill-opacity="0.89"/>
<rect x="87.79" y="294.90" width="30.99" height="1.60" fill="#1C86EE" fill-opacity="0.22"/>
<rect x="87.79" y="296.50" width="30.99" height="3.10" fill="#1C86EE" fill-opacity="0.44"/>
<rect x="87.79" y="299.60" width="30.99" height="1.80" fill="#1C86EE" fill-opacity="0.22"/>
<rect x="87.79" y="301.40" width="30.99" height="1.90" fill="#1C86EE" fill-opacity="0.33"/>
<rect x="87.79" y="303.30" width="30.99" height="0.90" fill="#1C86EE" fill-opacity="0.44"/>
<rect x="87.79" y="304.20" width="30.99" height="1.80" fill="#1C86EE" fill-opacity="0.11"/>
<rect x="87.79" y="306.00" width="30.99" height="2.20" fill="#1C86EE" fill-opacity="0.78"/>
<rect x="87.79" y="308.20" width="30.99" height="1.40" fill="#1C86EE" fill-opacity="0.11"/>
<rect x="87.79" y="309.60" width="30.99" height="1.30" fill="#1C86EE" fill-opacity="0.33"/>
<rect x="87.79" y="313.90" width="30.99" height="1.10" fill="#1C86EE" fill-opacity="0.89"/>
<rect x="87.79" y="316.20" width="30.99" height="0.90" fill="#1C86EE" fill-opacity="0.78"/>
<rect x="87.79" y="317.10" width="30.99" height="2.70" fill="#1C86EE" fill-opacity="0.11"/>
<rect x="87.79" y="319.80" width="30.99" height="3.20" fill="#1C86EE" fill-opacity="0.33"/>
<rect x="87.79" y="323.00" width="30.99" height="1.80" fill="#1C86EE" fill-opacity="0.11"/>
<rect x="87.79" y="324.80" width="30.99" height="1.10" fill="#1C86EE" fill-opacity="0.78"/>
<rect x="87.79" y="325.90" width="30.99" height="2.00" fill="#1C86EE" fill-opacity="0.33"/>
<rect x="87.79" y="327.90" width="30.99" height="4.10" fill="#1C86EE" fill-opacity="0.44"/>
<rect x="87.79" y="337.00" width="30.99" height="1.30" fill="#1C86EE" fill-opacity="0.11"/>
<rect x="87.79" y="338.30" width="30.99" height="3.70" fill="#1C86EE" fill-opacity="0.44"/>
<rect x="87.79" y="342.00" width="30.99" height="2.20" fill="#1C86EE" fill-opacity="0.56"/>
<rect x="87.79" y="344.20" width="30.99" height="1.80" fill="#1C86EE" fill-opacity="0.78"/>
<rect x="87.79" y="346.00" width="30.99" height="3.20" fill="#1C86EE" fill-opacity="0.11"/>
<rect x="87.79" y="349.20" width="30.99" height="1.60" fill="#1C86EE" fill-opacity="0.44"/>
<rect x="87.79" y="352.80" width="30.99" height="1.80" fill="#1C86EE" fill-opacity="0.33"/>
<rect x="87.79" y="354.60" width="30.99" height="4.60" fill="#1C86EE" fill-opacity="0.22"/>
<rect x="87.79" y="359.20" width="30.99" height="1.30" fill="#1C86EE" fill-opacity="0.56"/>
<rect x="87.79" y="360.50" width="30.99" height="1.80" fill="#1C86EE" fill-opacity="0.33"/>
<rect x="87.79" y="362.30" width="30.99" height="2.70" fill="#1C86EE" fill-opacity="0.67"/>
<rect x="87.79" y="365.00" width="30.99" height="1.40" fill="#1C86EE" fill-opacity="0.11"/>
<rect x="87.79" y="368.00" width="30.99" height="1.10" fill="#1C86EE" fill-opacity="0.33"/>
<rect x="87.79" y="369.10" width="30.99" height="1.20" fill="#1C86EE" fill-opacity="0.11"/>
<rect x="87.79" y="370.30" width="30.99" height="2.70" fill="#1C86EE" fill-opacity="0.44"/>
<rect x="87.79" y="373.00" width="30.99" height="0.90" fill="#1C86EE" fill-opacity="0.11"/>
<rect x="87.79" y="373.90" width="30.99" height="0.90" fill="#1C86EE" fill-opacity="0.56"/>
<rect x="87.79" y="374.80" width="30.99" height="1.30" fill="#1C86EE" fill-opacity="0.11"/>
<rect x="87.79" y="376.10" width="30.99" height="2.80" fill="#1C86EE" fill-opacity="0.33"/>
<rect x="87.79" y="378.90" width="30.99" height="2.20" fill="#1C86EE" fill-opacity="0.44"/>
<rect x="87.79" y="381.10" width="30.99" height="0.90" fill="#1C86EE" fill-opacity="0.11"/>
<rect x="87.79" y="382.00" width="30.99" height="0.90" fill="#1C86EE" fill-opacity="0.89"/>
<rect x="87.79" y="382.90" width="30.99" height="0.90" fill="#1C86EE" fill-opacity="0.22"/>
<rect x="87.79" y="383.80" width="30.99" height="3.20" fill="#1C86EE" fill-opacity="0.44"/>
<rect x="87.79" y="387.00" width="30.99" height="6.80" fill="#1C86EE" fill-opacity="0.33"/>
<rect x="87.79" y="397.90" width="30.99" height="1.10" fill="#1C86EE" fill-opacity="0.67"/>
<rect x="87.79" y="400.10" width="30.99" height="1.60" fill="#1C86EE" fill-opacity="0.44"/>
<rect x="87.79" y="403.30" width="30.99" height="2.70" fill="#1C86EE" fill-opacity="0.33"/>
<rect x="87.79" y="406.00" width="30.99" height="1.80" fill="#1C86EE" fill-opacity="0.44"/>
<rect x="87.79" y="407.80" width="30.99" height="1.80" fill="#1C86EE" fill-opacity="0.11"/>
<rect x="87.79" y="409.60" width="30.99" height="1.80" fill="#1C86EE" fill-opacity="0.22"/>
<rect x="87.79" y="411.40" width="30.99" height="1.90" fill="#1C86EE" fill-opacity="0.33"/>
<rect x="87.79" y="413.30" width="30.99" height="1.80" fill="#1C86EE" fill-opacity="0.44"/>
<rect x="87.79" y="415.10" width="30.99" height="1.80" fill="#1C86EE" fill-opacity="0.11"/>
<rect x="87.79" y="416.90" width="30.99" height="1.10" fill="#1C86EE" fill-opacity="0.67"/>
<rect x="87.79" y="418.00" width="30.99" height="1.10" fill="#1C86EE" fill-opacity="0.11"/>
<rect x="87.79" y="419.10" width="30.99" height="0.90" fill="#1C86EE" fill-opacity="0.33"/>
<rect x="87.79" y="421.90" width="30.99" height="1.10" fill="#1C86EE" fill-opacity="0.67"/>
<rect x="87.79" y="423.00" width="30.99" height="1.80" fill="#1C86EE" fill-opacity="0.22"/>
<rect x="87.79" y="424.80" width="30.99" height="1.10" fill="#1C86EE" fill-opacity="0.11"/>
<rect x="87.79" y="425.90" width="30.99" height="1.60" fill="#1C86EE" fill-opacity="0.67"/>
<rect x="87.79" y="427.50" width="30.99" height="0.90" fill="#1C86EE" fill-opacity="0.33"/>
<rect x="87.79" y="428.40" width="30.99" height="1.70" fill="#1C86EE" fill-opacity="0.44"/>
<rect x="87.79" y="436.60" width="30.99" height="1.30" fill="#1C86EE" fill-opacity="0.89"/>
<rect x="87.79" y="444.30" width="30.99" height="1.80" fill="#1C86EE" fill-opacity="0.33"/>
<rect x="87.79" y="446.10" width="30.99" height="0.60" fill="#1C86EE" fill-opacity="0.11"/>
<rect x="87.79" y="446.70" width="30.99" height="1.20" fill="#1C86EE" fill-opacity="0.33"/>
<rect x="87.79" y="452.00" width="30.99" height="2.20" fill="#1C86EE" fill-opacity="0.22"/>
<rect x="87.79" y="456.00" width="30.99" height="2.80" fill="#1C86EE" fill-opacity="0.67"/>
<rect x="87.79" y="458.80" width="30.99" height="1.30" fill="#1C86EE" fill-opacity="0.11"/>
<rect x="87.79" y="460.10" width="30.99" height="1.80" fill="#1C86EE" fill-opacity="0.22"/>
<rect x="87.79" y="461.90" width="30.99" height="0.90" fill="#1C86EE" fill-opacity="0.11"/>
<rect x="87.79" y="462.80" width="30.99" height="1.40" fill="#1C86EE" fill-opacity="0.33"/>
<rect x="87.79" y="466.00" width="30.99" height="1.40" fill="#1C86EE" fill-opacity="0.56"/>
<rect x="87.79" y="467.40" width="30.99" height="1.30" fill="#1C86EE" fill-opacity="0.22"/>
<rect x="87.79" y="468.70" width="30.99" height="1.40" fill="#1C86EE" fill-opacity="0.78"/>
<rect x="87.79" y="470.10" width="30.99" height="2.20" fill="#1C86EE" fill-opacity="0.11"/>
<rect x="87.79" y="472.30" width="30.99" height="1.40" fill="#1C86EE" fill-opacity="0.44"/>
<rect x="87.79" y="473.70" width="30.99" height="1.30" fill="#1C86EE" fill-opacity="0.11"/>
<rect x="87.79" y="475.00" width="30.99" height="1.40" fill="#1C86EE" fill-opacity="0.56"/>
<rect x="87.79" y="476.40" width="30.99" height="1.60" fill="#1C86EE" fill-opacity="0.33"/>
<rect x="87.79" y="478.00" width="30.99" height="2.70" fill="#1C86EE" fill-opacity="0.22"/>
<rect x="87.79" y="482.50" width="30.99" height="0.90" fill="#1C86EE" fill-opacity="0.44"/>
<rect x="87.79" y="483.40" width="30.99" height="1.10" fill="#1C86EE" fill-opacity="0.22"/>
<rect x="87.79" y="484.50" width="30.99" height="1.50" fill="#1C86EE" fill-opacity="0.89"/>
<rect x="87.79" y="486.00" width="30.99" height="1.10" fill="#1C86EE" fill-opacity="0.22"/>
<rect x="87.79" y="487.10" width="30.99" height="2.50" fill="#1C86EE" fill-opacity="0.56"/>
<rect x="87.79" y="489.60" width="30.99" height="1.50" fill="#1C86EE" fill-opacity="0.11"/>
<rect x="87.79" y="491.10" width="30.99" height="1.80" fill="#1C86EE" fill-opacity="0.33"/>
<rect x="87.79" y="492.90" width="30.99" height="1.40" fill="#1C86EE" fill-opacity="0.22"/>
<rect x="87.79" y="494.30" width="30.99" height="1.30" fill="#1C86EE" fill-opacity="0.67"/>
<rect x="87.79" y="498.80" width="30.99" height="1.40" fill="#1C86EE" fill-opacity="0.22"/>
<rect x="87.79" y="500.20" width="30.99" height="1.50" fill="#1C86EE" fill-opacity="0.33"/>
<rect x="87.79" y="501.70" width="30.99" height="2.10" fill="#1C86EE" fill-opacity="0.11"/>
<rect x="87.79" y="503.80" width="30.99" height="1.40" fill="#1C86EE" fill-opacity="0.22"/>
<rect x="87.79" y="505.20" width="30.99" height="1.30" fill="#1C86EE" fill-opacity="0.11"/>
<rect x="87.79" y="506.50" width="30.99" height="2.70" fill="#1C86EE" fill-opacity="0.56"/>
<rect x="87.79" y="509.20" width="30.99" height="2.30" fill="#1C86EE" fill-opacity="0.11"/>
<rect x="87.79" y="511.50" width="30.99" height="2.30" fill="#1C86EE" fill-opacity="0.56"/>
<rect x="87.79" y="513.80" width="30.99" height="0.90" fill="#1C86EE" fill-opacity="0.33"/>
<rect x="87.79" y="514.70" width="30.99" height="1.30" fill="#1C86EE" fill-opacity="0.22"/>
<rect x="87.79" y="516.00" width="30.99" height="0.90" fill="#1C86EE" fill-opacity="0.56"/>
<rect x="87.79" y="516.90" width="30.99" height="1.80" fill="#1C86EE" fill-opacity="0.11"/>
<rect x="87.79" y="518.70" width="30.99" height="2.30" fill="#1C86EE" fill-opacity="0.22"/>
<rect x="87.79" y="521.00" width="30.99" height="1.80" fill="#1C86EE" fill-opacity="0.11"/>
<rect x="87.79" y="522.80" width="30.99" height="1.80" fill="#1C86EE" fill-opacity="0.33"/>
<rect x="87.79" y="524.60" width="30.99" height="1.40" fill="#1C86EE" fill-opacity="0.56"/>
<rect x="87.79" y="526.00" width="30.99" height="1.30" fill="#1C86EE" fill-opacity="0.22"/>
<rect x="87.79" y="527.30" width="30.99" height="1.40" fill="#1C86EE" fill-opacity="0.67"/>
<rect x="87.79" y="528.70" width="30.99" height="1.30" fill="#1C86EE" fill-opacity="0.11"/>
<rect x="87.79" y="530.00" width="30.99" height="0.90" fill="#1C86EE" fill-opacity="0.89"/>
<rect x="87.79" y="530.90" width="30.99" height="1.40" fill="#1C86EE" fill-opacity="0.11"/>
<rect x="87.79" y="532.30" width="30.99" height="1.60" fill="#1C86EE" fill-opacity="0.33"/>
<rect x="87.79" y="533.90" width="30.99" height="1.10" fill="#1C86EE" fill-opacity="0.11"/>
<rect x="87.79" y="535.00" width="30.99" height="0.70" fill="#1C86EE" fill-opacity="0.44"/>
<rect x="87.79" y="535.70" width="30.99" height="1.40" fill="#1C86EE" fill-opacity="0.11"/>
<rect x="87.79" y="537.10" width="30.99" height="1.30" fill="#1C86EE" fill-opacity="0.22"/>
<rect x="87.79" y="538.40" width="30.99" height="2.30" fill="#1C86EE" fill-opacity="0.33"/>
<rect x="87.79" y="540.70" width="30.99" height="2.30" fill="#1C86EE" fill-opacity="0.22"/>
<rect x="87.79" y="543.00" width="30.99" height="1.30" fill="#1C86EE" fill-opacity="0.44"/>
<rect x="87.79" y="544.30" width="30.99" height="1.60" fill="#1C86EE" fill-opacity="0.33"/>
<rect x="87.79" y="545.90" width="30.99" height="2.00" fill="#1C86EE" fill-opacity="0.89"/>
<rect x="87.79" y="547.90" width="30.99" height="1.20" fill="#1C86EE" fill-opacity="0.22"/>
<rect x="87.79" y="549.10" width="30.99" height="1.10" fill="#1C86EE" fill-opacity="0.56"/>
<rect x="87.79" y="550.20" width="30.99" height="0.70" fill="#1C86EE" fill-opacity="0.22"/>
<rect x="87.79" y="550.90" width="30.99" height="1.10" fill="#1C86EE" fill-opacity="0.67"/>
<rect x="87.79" y="552.00" width="30.99" height="0.90" fill="#1C86EE" fill-opacity="0.22"/>
<rect x="87.79" y="552.90" width="30.99" height="0.90" fill="#1C86EE" fill-opacity="0.44"/>
<rect x="87.79" y="553.80" width="30.99" height="1.40" fill="#1C86EE" fill-opacity="0.11"/>
<rect x="87.79" y="555.20" width="30.99" height="4.00" fill="#1C86EE" fill-opacity="0.33"/>
<rect x="87.79" y="559.20" width="30.99" height="1.00" fill="#1C86EE" fill-opacity="0.11"/>
<rect x="87.79" y="560.20" width="30.99" height="0.90" fill="#1C86EE" fill-opacity="0.22"/>
<rect x="87.79" y="561.10" width="30.99" height="1.30" fill="#1C86EE" fill-opacity="0.44"/>
<rect x="87.79" y="566.00" width="30.99" height="1.80" fill="#1C86EE" fill-opacity="0.33"/>
<rect x="87.79" y="567.80" width="30.99" height="1.20" fill="#1C86EE" fill-opacity="0.78"/>
<rect x="87.79" y="569.00" width="30.99" height="1.60" fill="#1C86EE" fill-opacity="0.33"/>
<rect x="87.79" y="575.10" width="30.99" height="4.50" fill="#1C86EE" fill-opacity="0.44"/>
<rect x="87.79" y="579.60" width="30.99" height="1.40" fill="#1C86EE" fill-opacity="0.56"/>
<rect x="87.79" y="581.00" width="30.99" height="0.90" fill="#1C86EE" fill-opacity="0.33"/>
<rect x="87.79" y="581.90" width="30.99" height="3.10" fill="#1C86EE" fill-opacity="0.78"/>
<rect x="87.79" y="585.00" width="30.99" height="1.90" fill="#1C86EE" fill-opacity="0.33"/>
<rect x="87.79" y="586.90" width="30.99" height="1.10" fill="#1C86EE" fill-opacity="0.78"/>
<rect x="87.79" y="588.00" width="30.99" height="1.40" fill="#1C86EE" fill-opacity="0.22"/>
<rect x="87.79" y="589.40" width="30.99" height="1.30" fill="#1C86EE" fill-opacity="0.44"/>
<rect x="87.79" y="590.70" width="30.99" height="0.90" fill="#1C86EE" fill-opacity="0.22"/>
<rect x="87.79" y="591.60" width="30.99" height="1.40" fill="#1C86EE" fill-opacity="0.78"/>
<rect x="87.79" y="593.00" width="30.99" height="0.60" fill="#1C86EE" fill-opacity="0.11"/>
<rect x="87.79" y="593.60" width="30.99" height="0.90" fill="#1C86EE" fill-opacity="0.33"/>
<rect x="87.79" y="594.50" width="30.99" height="1.20" fill="#1C86EE" fill-opacity="0.11"/>
<rect x="87.79" y="595.70" width="30.99" height="1.50" fill="#1C86EE" fill-opacity="0.89"/>
<rect x="87.79" y="597.20" width="30.99" height="1.70" fill="#1C86EE" fill-opacity="0.22"/>
<rect x="87.79" y="598.90" width="30.99" height="1.80" fill="#1C86EE" fill-opacity="0.56"/>
<rect x="87.79" y="600.70" width="30.99" height="1.30" fill="#1C86EE" fill-opacity="0.89"/>
<rect x="87.79" y="602.00" width="30.99" height="2.70" fill="#1C86EE" fill-opacity="0.11"/>
<rect x="87.79" y="604.70" width="30.99" height="1.20" fill="#1C86EE" fill-opacity="0.56"/>
<rect x="87.79" y="607.90" width="30.99" height="1.10" fill="#1C86EE" fill-opacity="0.33"/>
<rect x="87.79" y="609.00" width="30.99" height="1.40" fill="#1C86EE" fill-opacity="0.11"/>
<rect x="87.79" y="610.40" width="30.99" height="1.30" fill="#1C86EE" fill-opacity="0.33"/>
<rect x="87.79" y="611.70" width="30.99" height="1.60" fill="#1C86EE" fill-opacity="0.56"/>
<rect x="87.79" y="613.30" width="30.99" height="0.90" fill="#1C86EE" fill-opacity="0.22"/>
<rect x="87.79" y="614.20" width="30.99" height="2.60" fill="#1C86EE" fill-opacity="0.44"/>
<rect x="87.79" y="616.80" width="30.99" height="1.10" fill="#1C86EE" fill-opacity="0.11"/>
<rect x="87.79" y="617.90" width="30.99" height="3.60" fill="#1C86EE" fill-opacity="0.22"/>
<rect x="87.79" y="621.50" width="30.99" height="1.30" fill="#1C86EE" fill-opacity="0.56"/>
<rect x="87.79" y="622.80" width="30.99" height="1.00" fill="#1C86EE" fill-opacity="0.11"/>
<rect x="87.79" y="623.80" width="30.99" height="1.30" fill="#1C86EE" fill-opacity="0.78"/>
<rect x="87.79" y="625.10" width="30.99" height="0.90" fill="#1C86EE" fill-opacity="0.33"/>
<rect x="87.79" y="626.00" width="30.99" height="0.90" fill="#1C86EE" fill-opacity="0.67"/>
<rect x="87.79" y="626.90" width="30.99" height="1.40" fill="#1C86EE" fill-opacity="0.11"/>
<rect x="87.79" y="628.30" width="30.99" height="1.20" fill="#1C86EE" fill-opacity="0.44"/>
<rect x="87.79" y="629.50" width="30.99" height="1.00" fill="#1C86EE" fill-opacity="0.56"/>
<rect x="87.79" y="630.50" width="30.99" height="0.90" fill="#1C86EE" fill-opacity="0.22"/>
<rect x="87.79" y="631.40" width="30.99" height="1.70" fill="#1C86EE" fill-opacity="0.67"/>
<rect x="87.79" y="633.10" width="30.99" height="1.10" fill="#1C86EE" fill-opacity="0.11"/>
<rect x="87.79" y="634.20" width="30.99" height="1.80" fill="#1C86EE" fill-opacity="0.33"/>
<rect x="87.79" y="636.00" width="30.99" height="0.90" fill="#1C86EE" fill-opacity="0.11"/>
<rect x="87.79" y="636.90" width="30.99" height="1.30" fill="#1C86EE" fill-opacity="0.78"/>
<rect x="87.79" y="638.20" width="30.99" height="1.20" fill="#1C86EE" fill-opacity="0.11"/>
<rect x="87.79" y="639.40" width="30.99" height="1.50" fill="#1C86EE" fill-opacity="0.33"/>
<rect x="87.79" y="642.80" width="30.99" height="1.80" fill="#1C86EE" fill-opacity="0.67"/>
<rect x="87.79" y="644.60" width="30.99" height="1.30" fill="#1C86EE" fill-opacity="0.33"/>
<rect x="87.79" y="645.90" width="30.99" height="1.40" fill="#1C86EE" fill-opacity="0.11"/>
<rect x="87.79" y="648.50" width="30.99" height="2.00" fill="#1C86EE" fill-opacity="0.33"/>
<rect x="87.79" y="650.50" width="30.99" height="2.20" fill="#1C86EE" fill-opacity="0.11"/>
<rect x="87.79" y="652.70" width="30.99" height="1.40" fill="#1C86EE" fill-opacity="0.78"/>
<rect x="87.79" y="654.10" width="30.99" height="0.90" fill="#1C86EE" fill-opacity="0.11"/>
<rect x="87.79" y="655.00" width="30.99" height="1.10" fill="#1C86EE" fill-opacity="0.78"/>
<rect x="118.78" y="94.10" width="30.99" height="3.40" fill="#1C86EE" fill-opacity="0.44"/>
<rect x="118.78" y="97.50" width="30.99" height="0.70" fill="#1C86EE" fill-opacity="0.67"/>
<rect x="118.78" y="98.20" width="30.99" height="1.90" fill="#1C86EE"/>
<rect x="118.78" y="100.10" width="30.99" height="1.00" fill="#1C86EE" fill-opacity="0.33"/>
<rect x="118.78" y="101.10" width="30.99" height="2.00" fill="#1C86EE" fill-opacity="0.56"/>
<rect x="118.78" y="103.10" width="30.99" height="3.50" fill="#1C86EE" fill-opacity="0.44"/>
<rect x="118.78" y="106.60" width="30.99" height="0.90" fill="#1C86EE" fill-opacity="0.67"/>
<rect x="118.78" y="107.50" width="30.99" height="1.60" fill="#1C86EE" fill-opacity="0.89"/>
<rect x="118.78" y="109.10" width="30.99" height="0.90" fill="#1C86EE" fill-opacity="0.33"/>
<rect x="118.78" y="110.00" width="30.99" height="2.00" fill="#1C86EE" fill-opacity="0.56"/>
<rect x="118.78" y="112.00" width="30.99" height="1.80" fill="#1C86EE" fill-opacity="0.22"/>
<rect x="118.78" y="115.20" width="30.99" height="1.50" fill="#1C86EE" fill-opacity="0.44"/>
<rect x="118.78" y="116.70" width="30.99" height="1.20" fill="#1C86EE" fill-opacity="0.56"/>
<rect x="118.78" y="117.90" width="30.99" height="2.30" fill="#1C86EE" fill-opacity="0.44"/>
<rect x="118.78" y="120.20" width="30.99" height="3.60" fill="#1C86EE" fill-opacity="0.56"/>
<rect x="118.78" y="123.80" width="30.99" height="1.30" fill="#1C86EE" fill-opacity="0.11"/>
<rect x="118.78" y="125.10" width="30.99" height="3.70" fill="#1C86EE" fill-opacity="0.44"/>
<rect x="118.78" y="128.80" width="30.99" height="0.90" fill="#1C86EE" fill-opacity="0.22"/>
<rect x="118.78" y="129.70" width="30.99" height="1.30" fill="#1C86EE" fill-opacity="0.56"/>
<rect x="118.78" y="131.00" width="30.99" height="1.80" fill="#1C86EE" fill-opacity="0.67"/>
<rect x="118.78" y="132.80" width="30.99" height="1.80" fill="#1C86EE" fill-opacity="0.33"/>
<rect x="118.78" y="134.60" width="30.99" height="3.70" fill="#1C86EE" fill-opacity="0.89"/>
<rect x="118.78" y="138.30" width="30.99" height="1.30" fill="#1C86EE" fill-opacity="0.67"/>
<rect x="118.78" y="139.60" width="30.99" height="1.40" fill="#1C86EE" fill-opacity="0.11"/>
<rect x="118.78" y="141.00" width="30.99" height="3.60" fill="#1C86EE" fill-opacity="0.44"/>
<rect x="118.78" y="144.60" width="30.99" height="1.80" fill="#1C86EE" fill-opacity="0.56"/>
<rect x="118.78" y="146.40" width="30.99" height="3.40" fill="#1C86EE" fill-opacity="0.78"/>
<rect x="118.78" y="149.80" width="30.99" height="3.60" fill="#1C86EE" fill-opacity="0.89"/>
<rect x="118.78" y="153.40" width="30.99" height="1.10" fill="#1C86EE" fill-opacity="0.67"/>
<rect x="118.78" y="154.50" width="30.99" height="1.60" fill="#1C86EE" fill-opacity="0.89"/>
<rect x="118.78" y="156.10" width="30.99" height="2.80" fill="#1C86EE" fill-opacity="0.56"/>
<rect x="118.78" y="158.90" width="30.99" height="4.00" fill="#1C86EE" fill-opacity="0.67"/>
<rect x="118.78" y="162.90" width="30.99" height="1.20" fill="#1C86EE" fill-opacity="0.22"/>
<rect x="118.78" y="164.10" width="30.99" height="1.50" fill="#1C86EE" fill-opacity="0.56"/>
<rect x="118.78" y="165.60" width="30.99" height="4.10" fill="#1C86EE" fill-opacity="0.44"/>
<rect x="118.78" y="169.70" width="30.99" height="1.40" fill="#1C86EE" fill-opacity="0.67"/>
<rect x="118.78" y="171.10" width="30.99" height="2.70" fill="#1C86EE" fill-opacity="0.33"/>
<rect x="118.78" y="173.80" width="30.99" height="0.90" fill="#1C86EE" fill-opacity="0.11"/>
<rect x="118.78" y="174.70" width="30.99" height="2.30" fill="#1C86EE" fill-opacity="0.67"/>
<rect x="118.78" y="177.00" width="30.99" height="1.80" fill="#1C86EE" fill-opacity="0.33"/>
<rect x="118.78" y="178.80" width="30.99" height="1.30" fill="#1C86EE" fill-opacity="0.11"/>
<rect x="118.78" y="180.10" width="30.99" height="1.80" fill="#1C86EE" fill-opacity="0.33"/>
<rect x="118.78" y="181.90" width="30.99" height="4.10" fill="#1C86EE" fill-opacity="0.44"/>
<rect x="118.78" y="186.00" width="30.99" height="1.10" fill="#1C86EE" fill-opacity="0.22"/>
<rect x="118.78" y="187.10" width="30.99" height="1.60" fill="#1C86EE" fill-opacity="0.56"/>
<rect x="118.78" y="188.70" width="30.99" height="1.10" fill="#1C86EE" fill-opacity="0.22"/>
<rect x="118.78" y="189.80" width="30.99" height="2.10" fill="#1C86EE" fill-opacity="0.44"/>
<rect x="118.78" y="191.90" width="30.99" height="0.90" fill="#1C86EE" fill-opacity="0.22"/>
<rect x="118.78" y="192.80" width="30.99" height="0.90" fill="#1C86EE" fill-opacity="0.67"/>
<rect x="118.78" y="193.70" width="30.99" height="1.20" fill="#1C86EE" fill-opacity="0.22"/>
<rect x="118.78" y="194.90" width="30.99" height="0.90" fill="#1C86EE" fill-opacity="0.56"/>
<rect x="118.78" y="195.80" width="30.99" height="1.10" fill="#1C86EE" fill-opacity="0.22"/>
<rect x="118.78" y="196.90" width="30.99" height="0.70" fill="#1C86EE" fill-opacity="0.56"/>
<rect x="118.78" y="197.60" width="30.99" height="1.30" fill="#1C86EE" fill-opacity="0.11"/>
<rect x="118.78" y="198.90" width="30.99" height="1.40" fill="#1C86EE" fill-opacity="0.56"/>
<rect x="118.78" y="200.30" width="30.99" height="2.00" fill="#1C86EE" fill-opacity="0.33"/>
<rect x="118.78" y="202.30" width="30.99" height="1.70" fill="#1C86EE" fill-opacity="0.11"/>
<rect x="118.78" y="204.00" width="30.99" height="0.20" fill="#1C86EE" fill-opacity="0.22"/>
<rect x="118.78" y="204.20" width="30.99" height="1.70" fill="#1C86EE" fill-opacity="0.44"/>
<rect x="118.78" y="206.10" width="30.99" height="0.30" fill="#1C86EE" fill-opacity="0.33"/>
<rect x="118.78" y="206.40" width="30.99" height="1.10" fill="#1C86EE" fill-opacity="0.22"/>
<rect x="118.78" y="213.20" width="30.99" height="1.40" fill="#1C86EE" fill-opacity="0.56"/>
<rect x="118.78" y="216.70" width="30.99" height="2.00" fill="#1C86EE" fill-opacity="0.33"/>
<rect x="118.78" y="218.70" width="30.99" height="1.10" fill="#1C86EE" fill-opacity="0.22"/>
<rect x="118.78" y="222.20" width="30.99" height="2.00" fill="#1C86EE" fill-opacity="0.56"/>
<rect x="118.78" y="226.30" width="30.99" height="1.30" fill="#1C86EE" fill-opacity="0.44"/>
<rect x="118.78" y="229.70" width="30.99" height="1.10" fill="#1C86EE" fill-opacity="0.33"/>
<rect x="118.78" y="236.60" width="30.99" height="1.30" fill="#1C86EE" fill-opacity="0.44"/>
<rect x="118.78" y="247.30" width="30.99" height="1.60" fill="#1C86EE" fill-opacity="0.44"/>
<rect x="118.78" y="249.60" width="30.99" height="1.00" fill="#1C86EE" fill-opacity="0.56"/>
<rect x="118.78" y="253.70" width="30.99" height="2.10" fill="#1C86EE" fill-opacity="0.44"/>
<rect x="118.78" y="255.80" width="30.99" height="1.60" fill="#1C86EE" fill-opacity="0.56"/>
<rect x="118.78" y="258.50" width="30.99" height="1.40" fill="#1C86EE" fill-opacity="0.89"/>
<rect x="118.78" y="262.60" width="30.99" height="1.10" fill="#1C86EE" fill-opacity="0.33"/>
<rect x="118.78" y="267.40" width="30.99" height="1.40" fill="#1C86EE" fill-opacity="0.44"/>
<rect x="118.78" y="270.20" width="30.99" height="1.40" fill="#1C86EE" fill-opacity="0.22"/>
<rect x="118.78" y="277.70" width="30.99" height="1.10" fill="#1C86EE" fill-opacity="0.33"/>
<rect x="118.78" y="281.80" width="30.99" height="1.10" fill="#1C86EE" fill-opacity="0.44"/>
<rect x="118.78" y="286.00" width="30.99" height="1.10" fill="#1C86EE" fill-opacity="0.33"/>
<rect x="118.78" y="292.80" width="30.99" height="2.80" fill="#1C86EE" fill-opacity="0.56"/>
<rect x="118.78" y="296.30" width="30.99" height="1.30" fill="#1C86EE" fill-opacity="0.44"/>
<rect x="118.78" y="299.70" width="30.99" height="1.40" fill="#1C86EE" fill-opacity="0.22"/>
<rect x="118.78" y="304.50" width="30.99" height="1.40" fill="#1C86EE" fill-opacity="0.22"/>
<rect x="118.78" y="312.70" width="30.99" height="1.00" fill="#1C86EE" fill-opacity="0.33"/>
<rect x="118.78" y="316.20" width="30.99" height="1.10" fill="#1C86EE" fill-opacity="0.44"/>
<rect x="118.78" y="319.70" width="30.99" height="1.10" fill="#1C86EE" fill-opacity="0.67"/>
<rect x="118.78" y="321.80" width="30.99" height="1.00" fill="#1C86EE" fill-opacity="0.33"/>
<rect x="118.78" y="328.00" width="30.99" height="1.10" fill="#1C86EE" fill-opacity="0.33"/>
<rect x="118.78" y="330.00" width="30.99" height="1.40" fill="#1C86EE" fill-opacity="0.22"/>
<rect x="118.78" y="334.80" width="30.99" height="0.90" fill="#1C86EE" fill-opacity="0.33"/>
<rect x="118.78" y="336.90" width="30.99" height="0.70" fill="#1C86EE" fill-opacity="0.33"/>
<rect x="118.78" y="347.90" width="30.99" height="1.80" fill="#1C86EE" fill-opacity="0.78"/>
<rect x="118.78" y="352.00" width="30.99" height="1.00" fill="#1C86EE" fill-opacity="0.33"/>
<rect x="118.78" y="353.80" width="30.99" height="2.30" fill="#1C86EE" fill-opacity="0.44"/>
<rect x="118.78" y="357.10" width="30.99" height="1.30" fill="#1C86EE" fill-opacity="0.33"/>
<rect x="118.78" y="358.40" width="30.99" height="1.10" fill="#1C86EE" fill-opacity="0.56"/>
<rect x="118.78" y="362.00" width="30.99" height="1.70" fill="#1C86EE" fill-opacity="0.67"/>
<rect x="118.78" y="364.30" width="30.99" height="1.40" fill="#1C86EE" fill-opacity="0.44"/>
<rect x="118.78" y="369.80" width="30.99" height="1.40" fill="#1C86EE" fill-opacity="0.78"/>
<rect x="118.78" y="376.70" width="30.99" height="1.00" fill="#1C86EE" fill-opacity="0.33"/>
<rect x="118.78" y="379.40" width="30.99" height="1.00" fill="#1C86EE" fill-opacity="0.44"/>
<rect x="118.78" y="381.50" width="30.99" height="1.40" fill="#1C86EE" fill-opacity="0.33"/>
<rect x="118.78" y="384.00" width="30.99" height="0.90" fill="#1C86EE" fill-opacity="0.44"/>
<rect x="118.78" y="387.70" width="30.99" height="0.90" fill="#1C86EE" fill-opacity="0.78"/>
<rect x="118.78" y="391.10" width="30.99" height="2.10" fill="#1C86EE" fill-opacity="0.33"/>
<rect x="118.78" y="395.20" width="30.99" height="1.40" fill="#1C86EE" fill-opacity="0.33"/>
<rect x="118.78" y="402.10" width="30.99" height="1.10" fill="#1C86EE" fill-opacity="0.33"/>
<rect x="118.78" y="403.70" width="30.99" height="1.10" fill="#1C86EE" fill-opacity="0.44"/>
<rect x="118.78" y="418.80" width="30.99" height="0.80" fill="#1C86EE" fill-opacity="0.33"/>
<rect x="118.78" y="422.00" width="30.99" height="0.90" fill="#1C86EE" fill-opacity="0.44"/>
<rect x="118.78" y="425.40" width="30.99" height="1.40" fill="#1C86EE" fill-opacity="0.22"/>
<rect x="118.78" y="428.20" width="30.99" height="1.70" fill="#1C86EE" fill-opacity="0.22"/>
<rect x="118.78" y="430.00" width="30.99" height="3.80" fill="#1C86EE" fill-opacity="0.33"/>
<rect x="118.78" y="434.80" width="30.99" height="1.10" fill="#1C86EE" fill-opacity="0.33"/>
<rect x="118.78" y="438.60" width="30.99" height="1.10" fill="#1C86EE" fill-opacity="0.44"/>
<rect x="118.78" y="441.10" width="30.99" height="0.90" fill="#1C86EE" fill-opacity="0.44"/>
<rect x="118.78" y="450.70" width="30.99" height="0.90" fill="#1C86EE" fill-opacity="0.67"/>
<rect x="118.78" y="455.80" width="30.99" height="0.90" fill="#1C86EE" fill-opacity="0.33"/>
<rect x="118.78" y="458.50" width="30.99" height="1.00" fill="#1C86EE" fill-opacity="0.33"/>
<rect x="118.78" y="461.70" width="30.99" height="0.90" fill="#1C86EE" fill-opacity="0.33"/>
<rect x="118.78" y="465.00" width="30.99" height="1.10" fill="#1C86EE" fill-opacity="0.44"/>
<rect x="118.78" y="471.80" width="30.99" height="2.20" fill="#1C86EE" fill-opacity="0.56"/>
<rect x="118.78" y="477.70" width="30.99" height="1.00" fill="#1C86EE" fill-opacity="0.44"/>
<rect x="118.78" y="482.80" width="30.99" height="1.10" fill="#1C86EE" fill-opacity="0.33"/>
<rect x="118.78" y="486.60" width="30.99" height="2.10" fill="#1C86EE" fill-opacity="0.33"/>
<rect x="118.78" y="499.70" width="30.99" height="0.90" fill="#1C86EE" fill-opacity="0.44"/>
<rect x="118.78" y="502.80" width="30.99" height="1.00" fill="#1C86EE" fill-opacity="0.89"/>
<rect x="118.78" y="507.90" width="30.99" height="1.80" fill="#1C86EE" fill-opacity="0.22"/>
<rect x="118.78" y="513.80" width="30.99" height="1.00" fill="#1C86EE" fill-opacity="0.44"/>
<rect x="118.78" y="516.80" width="30.99" height="1.10" fill="#1C86EE" fill-opacity="0.33"/>
<rect x="118.78" y="520.70" width="30.99" height="1.30" fill="#1C86EE" fill-opacity="0.78"/>
<rect x="118.78" y="523.70" width="30.99" height="1.10" fill="#1C86EE" fill-opacity="0.33"/>
<rect x="118.78" y="526.40" width="30.99" height="1.40" fill="#1C86EE" fill-opacity="0.56"/>
<rect x="118.78" y="528.50" width="30.99" height="1.40" fill="#1C86EE" fill-opacity="0.44"/>
<rect x="118.78" y="531.60" width="30.99" height="1.00" fill="#1C86EE" fill-opacity="0.33"/>
<rect x="118.78" y="534.70" width="30.99" height="0.70" fill="#1C86EE" fill-opacity="0.44"/>
<rect x="118.78" y="539.50" width="30.99" height="1.30" fill="#1C86EE" fill-opacity="0.33"/>
<rect x="118.78" y="543.90" width="30.99" height="2.80" fill="#1C86EE" fill-opacity="0.44"/>
<rect x="118.78" y="552.50" width="30.99" height="1.10" fill="#1C86EE" fill-opacity="0.33"/>
<rect x="118.78" y="555.40" width="30.99" height="3.60" fill="#1C86EE" fill-opacity="0.22"/>
<rect x="118.78" y="561.10" width="30.99" height="1.70" fill="#1C86EE" fill-opacity="0.44"/>
<rect x="118.78" y="564.00" width="30.99" height="1.70" fill="#1C86EE" fill-opacity="0.33"/>
<rect x="118.78" y="571.50" width="30.99" height="1.10" fill="#1C86EE" fill-opacity="0.67"/>
<rect x="118.78" y="578.70" width="30.99" height="1.10" fill="#1C86EE" fill-opacity="0.67"/>
<rect x="118.78" y="581.20" width="30.99" height="1.20" fill="#1C86EE" fill-opacity="0.44"/>
<rect x="118.78" y="583.00" width="30.99" height="1.40" fill="#1C86EE" fill-opacity="0.33"/>
<rect x="118.78" y="586.70" width="30.99" height="1.20" fill="#1C86EE" fill-opacity="0.44"/>
<rect x="118.78" y="589.60" width="30.99" height="3.10" fill="#1C86EE" fill-opacity="0.78"/>
<rect x="118.78" y="594.20" width="30.99" height="1.40" fill="#1C86EE" fill-opacity="0.33"/>
<rect x="118.78" y="606.80" width="30.99" height="1.20" fill="#1C86EE" fill-opacity="0.33"/>
<rect x="118.78" y="608.80" width="30.99" height="1.50" fill="#1C86EE" fill-opacity="0.67"/>
<rect x="118.78" y="611.40" width="30.99" height="2.20" fill="#1C86EE" fill-opacity="0.44"/>
<rect x="118.78" y="620.80" width="30.99" height="1.40" fill="#1C86EE" fill-opacity="0.22"/>
<rect x="118.78" y="627.00" width="30.99" height="2.00" fill="#1C86EE" fill-opacity="0.56"/>
<rect x="118.78" y="630.80" width="30.99" height="1.00" fill="#1C86EE" fill-opacity="0.56"/>
<rect x="118.78" y="635.10" width="30.99" height="1.90" fill="#1C86EE" fill-opacity="0.22"/>
<rect x="118.78" y="638.70" width="30.99" height="1.20" fill="#1C86EE" fill-opacity="0.56"/>
<rect x="118.78" y="643.30" width="30.99" height="1.90" fill="#1C86EE" fill-opacity="0.33"/>
<rect x="118.78" y="645.20" width="30.99" height="2.20" fill="#1C86EE" fill-opacity="0.67"/>
<rect x="118.78" y="653.10" width="30.99" height="2.90" fill="#1C86EE" fill-opacity="0.44"/>
<rect x="149.77" y="94.10" width="30.99" height="0.90" fill="#1C86EE" fill-opacity="0.44"/>
<rect x="149.77" y="95.00" width="30.99" height="0.90" fill="#1C86EE" fill-opacity="0.11"/>
<rect x="149.77" y="95.90" width="30.99" height="1.20" fill="#1C86EE" fill-opacity="0.33"/>
<rect x="149.77" y="97.10" width="30.99" height="1.10" fill="#1C86EE" fill-opacity="0.22"/>
<rect x="149.77" y="98.20" width="30.99" height="1.60" fill="#1C86EE" fill-opacity="0.89"/>
<rect x="149.77" y="99.80" width="30.99" height="1.30" fill="#1C86EE" fill-opacity="0.33"/>
<rect x="149.77" y="101.10" width="30.99" height="1.90" fill="#1C86EE" fill-opacity="0.89"/>
<rect x="149.77" y="103.00" width="30.99" height="1.30" fill="#1C86EE" fill-opacity="0.67"/>
<rect x="149.77" y="104.30" width="30.99" height="1.40" fill="#1C86EE" fill-opacity="0.22"/>
<rect x="149.77" y="107.90" width="30.99" height="1.40" fill="#1C86EE" fill-opacity="0.22"/>
<rect x="149.77" y="109.30" width="30.99" height="1.30" fill="#1C86EE" fill-opacity="0.33"/>
<rect x="149.77" y="110.60" width="30.99" height="2.30" fill="#1C86EE" fill-opacity="0.22"/>
<rect x="149.77" y="112.90" width="30.99" height="1.10" fill="#1C86EE" fill-opacity="0.11"/>
<rect x="149.77" y="114.00" width="30.99" height="1.60" fill="#1C86EE" fill-opacity="0.89"/>
<rect x="149.77" y="115.60" width="30.99" height="1.10" fill="#1C86EE" fill-opacity="0.44"/>
<rect x="149.77" y="116.70" width="30.99" height="1.50" fill="#1C86EE" fill-opacity="0.56"/>
<rect x="149.77" y="118.20" width="30.99" height="2.00" fill="#1C86EE" fill-opacity="0.67"/>
<rect x="149.77" y="120.20" width="30.99" height="1.30" fill="#1C86EE" fill-opacity="0.44"/>
<rect x="149.77" y="121.50" width="30.99" height="0.90" fill="#1C86EE" fill-opacity="0.78"/>
<rect x="149.77" y="122.40" width="30.99" height="1.80" fill="#1C86EE" fill-opacity="0.33"/>
<rect x="149.77" y="125.10" width="30.99" height="1.80" fill="#1C86EE" fill-opacity="0.56"/>
<rect x="149.77" y="126.90" width="30.99" height="1.90" fill="#1C86EE" fill-opacity="0.44"/>
<rect x="149.77" y="128.80" width="30.99" height="1.30" fill="#1C86EE" fill-opacity="0.89"/>
<rect x="149.77" y="130.10" width="30.99" height="1.10" fill="#1C86EE" fill-opacity="0.33"/>
<rect x="149.77" y="131.20" width="30.99" height="0.90" fill="#1C86EE" fill-opacity="0.56"/>
<rect x="149.77" y="132.10" width="30.99" height="0.70" fill="#1C86EE" fill-opacity="0.11"/>
<rect x="149.77" y="132.80" width="30.99" height="1.80" fill="#1C86EE" fill-opacity="0.67"/>
<rect x="149.77" y="134.60" width="30.99" height="1.40" fill="#1C86EE" fill-opacity="0.11"/>
<rect x="149.77" y="136.00" width="30.99" height="1.40" fill="#1C86EE" fill-opacity="0.44"/>
<rect x="149.77" y="137.40" width="30.99" height="1.80" fill="#1C86EE" fill-opacity="0.67"/>
<rect x="149.77" y="139.20" width="30.99" height="1.80" fill="#1C86EE" fill-opacity="0.44"/>
<rect x="149.77" y="141.00" width="30.99" height="2.70" fill="#1C86EE" fill-opacity="0.22"/>
<rect x="149.77" y="143.70" width="30.99" height="2.70" fill="#1C86EE" fill-opacity="0.33"/>
<rect x="149.77" y="146.40" width="30.99" height="1.60" fill="#1C86EE" fill-opacity="0.44"/>
<rect x="149.77" y="148.00" width="30.99" height="1.80" fill="#1C86EE" fill-opacity="0.33"/>
<rect x="149.77" y="149.80" width="30.99" height="1.40" fill="#1C86EE" fill-opacity="0.56"/>
<rect x="149.77" y="151.20" width="30.99" height="1.80" fill="#1C86EE" fill-opacity="0.89"/>
<rect x="149.77" y="153.00" width="30.99" height="1.80" fill="#1C86EE" fill-opacity="0.56"/>
<rect x="149.77" y="154.80" width="30.99" height="1.30" fill="#1C86EE" fill-opacity="0.44"/>
<rect x="149.77" y="156.10" width="30.99" height="1.90" fill="#1C86EE" fill-opacity="0.33"/>
<rect x="149.77" y="158.00" width="30.99" height="1.00" fill="#1C86EE" fill-opacity="0.22"/>
<rect x="149.77" y="159.00" width="30.99" height="1.20" fill="#1C86EE" fill-opacity="0.11"/>
<rect x="149.77" y="160.20" width="30.99" height="0.90" fill="#1C86EE" fill-opacity="0.56"/>
<rect x="149.77" y="161.10" width="30.99" height="1.40" fill="#1C86EE" fill-opacity="0.11"/>
<rect x="149.77" y="162.50" width="30.99" height="2.50" fill="#1C86EE" fill-opacity="0.33"/>
<rect x="149.77" y="165.00" width="30.99" height="1.10" fill="#1C86EE" fill-opacity="0.78"/>
<rect x="149.77" y="166.10" width="30.99" height="1.10" fill="#1C86EE" fill-opacity="0.33"/>
<rect x="149.77" y="167.20" width="30.99" height="1.80" fill="#1C86EE"/>
<rect x="149.77" y="169.00" width="30.99" height="1.20" fill="#1C86EE" fill-opacity="0.44"/>
<rect x="149.77" y="170.20" width="30.99" height="1.30" fill="#1C86EE" fill-opacity="0.33"/>
<rect x="149.77" y="171.50" width="30.99" height="0.90" fill="#1C86EE" fill-opacity="0.11"/>
<rect x="149.77" y="172.40" width="30.99" height="1.80" fill="#1C86EE" fill-opacity="0.56"/>
<rect x="149.77" y="174.20" width="30.99" height="3.50" fill="#1C86EE" fill-opacity="0.33"/>
<rect x="149.77" y="177.70" width="30.99" height="1.10" fill="#1C86EE" fill-opacity="0.78"/>
<rect x="149.77" y="178.80" width="30.99" height="0.90" fill="#1C86EE" fill-opacity="0.22"/>
<rect x="149.77" y="179.70" width="30.99" height="1.80" fill="#1C86EE" fill-opacity="0.33"/>
<rect x="149.77" y="181.50" width="30.99" height="2.70" fill="#1C86EE" fill-opacity="0.67"/>
<rect x="149.77" y="184.20" width="30.99" height="1.80" fill="#1C86EE" fill-opacity="0.33"/>
<rect x="149.77" y="186.00" width="30.99" height="1.10" fill="#1C86EE" fill-opacity="0.22"/>
<rect x="149.77" y="187.10" width="30.99" height="0.70" fill="#1C86EE" fill-opacity="0.67"/>
<rect x="149.77" y="187.80" width="30.99" height="1.80" fill="#1C86EE" fill-opacity="0.11"/>
<rect x="149.77" y="189.60" width="30.99" height="2.80" fill="#1C86EE" fill-opacity="0.44"/>
<rect x="149.77" y="192.40" width="30.99" height="0.90" fill="#1C86EE" fill-opacity="0.33"/>
<rect x="149.77" y="198.70" width="30.99" height="1.80" fill="#1C86EE" fill-opacity="0.33"/>
<rect x="149.77" y="200.50" width="30.99" height="1.80" fill="#1C86EE" fill-opacity="0.22"/>
<rect x="149.77" y="206.10" width="30.99" height="2.30" fill="#1C86EE" fill-opacity="0.22"/>
<rect x="149.77" y="209.80" width="30.99" height="1.00" fill="#1C86EE" fill-opacity="0.56"/>
<rect x="149.77" y="212.50" width="30.99" height="2.10" fill="#1C86EE" fill-opacity="0.22"/>
<rect x="149.77" y="214.60" width="30.99" height="1.10" fill="#1C86EE" fill-opacity="0.56"/>
<rect x="149.77" y="217.10" width="30.99" height="0.70" fill="#1C86EE" fill-opacity="0.33"/>
<rect x="149.77" y="220.80" width="30.99" height="3.40" fill="#1C86EE" fill-opacity="0.33"/>
<rect x="149.77" y="226.30" width="30.99" height="1.30" fill="#1C86EE" fill-opacity="0.22"/>
<rect x="149.77" y="232.90" width="30.99" height="0.90" fill="#1C86EE" fill-opacity="0.56"/>
<rect x="149.77" y="239.00" width="30.99" height="1.70" fill="#1C86EE" fill-opacity="0.33"/>
<rect x="149.77" y="242.70" width="30.99" height="1.00" fill="#1C86EE" fill-opacity="0.33"/>
<rect x="149.77" y="245.80" width="30.99" height="1.10" fill="#1C86EE" fill-opacity="0.67"/>
<rect x="149.77" y="246.90" width="30.99" height="2.70" fill="#1C86EE" fill-opacity="0.44"/>
<rect x="149.77" y="252.30" width="30.99" height="1.40" fill="#1C86EE" fill-opacity="0.44"/>
<rect x="149.77" y="254.80" width="30.99" height="1.20" fill="#1C86EE" fill-opacity="0.67"/>
<rect x="149.77" y="258.80" width="30.99" height="0.80" fill="#1C86EE" fill-opacity="0.44"/>
<rect x="149.77" y="266.10" width="30.99" height="1.70" fill="#1C86EE" fill-opacity="0.44"/>
<rect x="149.77" y="270.20" width="30.99" height="2.00" fill="#1C86EE" fill-opacity="0.11"/>
<rect x="149.77" y="272.20" width="30.99" height="1.40" fill="#1C86EE" fill-opacity="0.22"/>
<rect x="149.77" y="277.00" width="30.99" height="1.40" fill="#1C86EE" fill-opacity="0.44"/>
<rect x="149.77" y="281.60" width="30.99" height="0.90" fill="#1C86EE" fill-opacity="0.67"/>
<rect x="149.77" y="284.60" width="30.99" height="1.10" fill="#1C86EE" fill-opacity="0.22"/>
<rect x="149.77" y="288.70" width="30.99" height="1.00" fill="#1C86EE" fill-opacity="0.56"/>
<rect x="149.77" y="291.70" width="30.99" height="1.80" fill="#1C86EE" fill-opacity="0.22"/>
<rect x="149.77" y="294.90" width="30.99" height="0.90" fill="#1C86EE" fill-opacity="0.56"/>
<rect x="149.77" y="298.70" width="30.99" height="1.00" fill="#1C86EE" fill-opacity="0.56"/>
<rect x="149.77" y="301.10" width="30.99" height="2.40" fill="#1C86EE" fill-opacity="0.33"/>
<rect x="149.77" y="304.90" width="30.99" height="1.00" fill="#1C86EE" fill-opacity="0.44"/>
<rect x="149.77" y="311.80" width="30.99" height="1.60" fill="#1C86EE" fill-opacity="0.33"/>
<rect x="149.77" y="313.40" width="30.99" height="1.10" fill="#1C86EE" fill-opacity="0.56"/>
<rect x="149.77" y="316.80" width="30.99" height="1.10" fill="#1C86EE" fill-opacity="0.22"/>
<rect x="149.77" y="318.00" width="30.99" height="2.40" fill="#1C86EE" fill-opacity="0.22"/>
<rect x="149.77" y="326.60" width="30.99" height="1.40" fill="#1C86EE" fill-opacity="0.78"/>
<rect x="149.77" y="330.00" width="30.99" height="1.80" fill="#1C86EE" fill-opacity="0.44"/>
<rect x="149.77" y="333.70" width="30.99" height="1.10" fill="#1C86EE" fill-opacity="0.33"/>
<rect x="149.77" y="336.90" width="30.99" height="1.00" fill="#1C86EE" fill-opacity="0.33"/>
<rect x="149.77" y="345.80" width="30.99" height="0.80" fill="#1C86EE" fill-opacity="0.33"/>
<rect x="149.77" y="348.60" width="30.99" height="2.70" fill="#1C86EE" fill-opacity="0.33"/>
<rect x="149.77" y="355.80" width="30.99" height="1.00" fill="#1C86EE" fill-opacity="0.67"/>
<rect x="149.77" y="358.90" width="30.99" height="0.90" fill="#1C86EE" fill-opacity="0.56"/>
<rect x="149.77" y="363.70" width="30.99" height="1.10" fill="#1C86EE" fill-opacity="0.22"/>
<rect x="149.77" y="366.40" width="30.99" height="1.10" fill="#1C86EE" fill-opacity="0.22"/>
<rect x="149.77" y="371.90" width="30.99" height="1.00" fill="#1C86EE" fill-opacity="0.67"/>
<rect x="149.77" y="374.40" width="30.99" height="1.30" fill="#1C86EE" fill-opacity="0.11"/>
<rect x="149.77" y="380.80" width="30.99" height="1.80" fill="#1C86EE" fill-opacity="0.22"/>
<rect x="149.77" y="384.70" width="30.99" height="0.90" fill="#1C86EE" fill-opacity="0.44"/>
<rect x="149.77" y="387.70" width="30.99" height="0.90" fill="#1C86EE" fill-opacity="0.44"/>
<rect x="149.77" y="391.80" width="30.99" height="1.80" fill="#1C86EE" fill-opacity="0.11"/>
<rect x="149.77" y="395.90" width="30.99" height="1.00" fill="#1C86EE" fill-opacity="0.56"/>
<rect x="149.77" y="398.00" width="30.99" height="0.80" fill="#1C86EE" fill-opacity="0.56"/>
<rect x="149.77" y="402.80" width="30.99" height="0.90" fill="#1C86EE" fill-opacity="0.67"/>
<rect x="149.77" y="407.60" width="30.99" height="1.10" fill="#1C86EE" fill-opacity="0.22"/>
<rect x="149.77" y="426.10" width="30.99" height="1.40" fill="#1C86EE" fill-opacity="0.22"/>
<rect x="149.77" y="428.20" width="30.99" height="1.30" fill="#1C86EE" fill-opacity="0.44"/>
<rect x="149.77" y="430.00" width="30.99" height="0.10" fill="#1C86EE" fill-opacity="0.44"/>
<rect x="149.77" y="433.80" width="30.99" height="1.40" fill="#1C86EE" fill-opacity="0.56"/>
<rect x="149.77" y="435.90" width="30.99" height="2.00" fill="#1C86EE" fill-opacity="0.56"/>
<rect x="149.77" y="453.70" width="30.99" height="2.70" fill="#1C86EE" fill-opacity="0.56"/>
<rect x="149.77" y="457.80" width="30.99" height="1.10" fill="#1C86EE" fill-opacity="0.44"/>
<rect x="149.77" y="472.20" width="30.99" height="1.40" fill="#1C86EE" fill-opacity="0.67"/>
<rect x="149.77" y="475.90" width="30.99" height="2.50" fill="#1C86EE" fill-opacity="0.44"/>
<rect x="149.77" y="480.90" width="30.99" height="1.30" fill="#1C86EE" fill-opacity="0.78"/>
<rect x="149.77" y="482.50" width="30.99" height="2.10" fill="#1C86EE" fill-opacity="0.22"/>
<rect x="149.77" y="485.90" width="30.99" height="1.00" fill="#1C86EE" fill-opacity="0.44"/>
<rect x="149.77" y="490.10" width="30.99" height="2.30" fill="#1C86EE" fill-opacity="0.44"/>
<rect x="149.77" y="494.90" width="30.99" height="1.30" fill="#1C86EE" fill-opacity="0.22"/>
<rect x="149.77" y="496.90" width="30.99" height="1.00" fill="#1C86EE" fill-opacity="0.22"/>
<rect x="149.77" y="499.70" width="30.99" height="1.30" fill="#1C86EE" fill-opacity="0.67"/>
<rect x="149.77" y="503.80" width="30.99" height="1.80" fill="#1C86EE" fill-opacity="0.44"/>
<rect x="149.77" y="512.00" width="30.99" height="1.00" fill="#1C86EE" fill-opacity="0.56"/>
<rect x="149.77" y="514.10" width="30.99" height="1.10" fill="#1C86EE" fill-opacity="0.33"/>
<rect x="149.77" y="516.10" width="30.99" height="2.80" fill="#1C86EE" fill-opacity="0.44"/>
<rect x="149.77" y="518.90" width="30.99" height="1.40" fill="#1C86EE" fill-opacity="0.22"/>
<rect x="149.77" y="522.00" width="30.99" height="2.00" fill="#1C86EE" fill-opacity="0.67"/>
<rect x="149.77" y="526.40" width="30.99" height="1.40" fill="#1C86EE" fill-opacity="0.44"/>
<rect x="149.77" y="528.90" width="30.99" height="1.00" fill="#1C86EE" fill-opacity="0.56"/>
<rect x="149.77" y="534.70" width="30.99" height="1.10" fill="#1C86EE" fill-opacity="0.89"/>
<rect x="149.77" y="538.80" width="30.99" height="1.10" fill="#1C86EE" fill-opacity="0.33"/>
<rect x="149.77" y="543.20" width="30.99" height="1.80" fill="#1C86EE" fill-opacity="0.56"/>
<rect x="149.77" y="547.90" width="30.99" height="1.00" fill="#1C86EE" fill-opacity="0.44"/>
<rect x="149.77" y="561.80" width="30.99" height="1.00" fill="#1C86EE" fill-opacity="0.67"/>
<rect x="149.77" y="564.00" width="30.99" height="0.70" fill="#1C86EE" fill-opacity="0.33"/>
<rect x="149.77" y="568.00" width="30.99" height="0.90" fill="#1C86EE" fill-opacity="0.44"/>
<rect x="149.77" y="570.90" width="30.99" height="2.00" fill="#1C86EE" fill-opacity="0.56"/>
<rect x="149.77" y="574.10" width="30.99" height="1.10" fill="#1C86EE" fill-opacity="0.22"/>
<rect x="149.77" y="578.10" width="30.99" height="1.00" fill="#1C86EE" fill-opacity="0.56"/>
<rect x="149.77" y="585.30" width="30.99" height="1.40" fill="#1C86EE" fill-opacity="0.11"/>
<rect x="149.77" y="589.90" width="30.99" height="2.10" fill="#1C86EE" fill-opacity="0.78"/>
<rect x="149.77" y="594.20" width="30.99" height="0.80" fill="#1C86EE" fill-opacity="0.56"/>
<rect x="149.77" y="595.90" width="30.99" height="0.90" fill="#1C86EE" fill-opacity="0.56"/>
<rect x="149.77" y="597.90" width="30.99" height="0.90" fill="#1C86EE" fill-opacity="0.33"/>
<rect x="149.77" y="601.10" width="30.99" height="1.70" fill="#1C86EE" fill-opacity="0.44"/>
<rect x="149.77" y="605.00" width="30.99" height="1.00" fill="#1C86EE" fill-opacity="0.33"/>
<rect x="149.77" y="612.90" width="30.99" height="0.80" fill="#1C86EE" fill-opacity="0.44"/>
<rect x="149.77" y="617.90" width="30.99" height="1.00" fill="#1C86EE" fill-opacity="0.33"/>
<rect x="149.77" y="621.80" width="30.99" height="1.80" fill="#1C86EE" fill-opacity="0.56"/>
<rect x="149.77" y="626.10" width="30.99" height="1.10" fill="#1C86EE" fill-opacity="0.56"/>
<rect x="149.77" y="628.70" width="30.99" height="1.10" fill="#1C86EE" fill-opacity="0.56"/>
<rect x="149.77" y="631.80" width="30.99" height="0.90" fill="#1C86EE" fill-opacity="0.33"/>
<rect x="149.77" y="639.00" width="30.99" height="0.90" fill="#1C86EE" fill-opacity="0.56"/>
<rect x="149.77" y="643.80" width="30.99" height="1.00" fill="#1C86EE" fill-opacity="0.33"/>
<rect x="149.77" y="645.90" width="30.99" height="1.20" fill="#1C86EE" fill-opacity="0.67"/>
<rect x="149.77" y="651.00" width="30.99" height="1.80" fill="#1C86EE" fill-opacity="0.56"/>
<rect x="149.77" y="656.70" width="30.99" height="1.00" fill="#1C86EE" fill-opacity="0.33"/>
<rect x="180.76" y="94.10" width="30.99" height="0.90" fill="#1C86EE" fill-opacity="0.11"/>
<rect x="180.76" y="95.00" width="30.99" height="0.90" fill="#1C86EE" fill-opacity="0.33"/>
<rect x="180.76" y="95.90" width="30.99" height="1.40" fill="#1C86EE" fill-opacity="0.67"/>
<rect x="180.76" y="97.30" width="30.99" height="0.70" fill="#1C86EE" fill-opacity="0.33"/>
<rect x="180.76" y="98.00" width="30.99" height="2.10" fill="#1C86EE"/>
<rect x="180.76" y="100.10" width="30.99" height="1.00" fill="#1C86EE" fill-opacity="0.33"/>
<rect x="180.76" y="101.10" width="30.99" height="1.00" fill="#1C86EE" fill-opacity="0.44"/>
<rect x="180.76" y="102.10" width="30.99" height="2.70" fill="#1C86EE" fill-opacity="0.56"/>
<rect x="180.76" y="104.80" width="30.99" height="0.90" fill="#1C86EE" fill-opacity="0.22"/>
<rect x="180.76" y="105.70" width="30.99" height="0.70" fill="#1C86EE" fill-opacity="0.11"/>
<rect x="180.76" y="106.40" width="30.99" height="1.10" fill="#1C86EE" fill-opacity="0.33"/>
<rect x="180.76" y="107.50" width="30.99" height="0.90" fill="#1C86EE" fill-opacity="0.22"/>
<rect x="180.76" y="108.40" width="30.99" height="1.30" fill="#1C86EE" fill-opacity="0.67"/>
<rect x="180.76" y="109.70" width="30.99" height="0.50" fill="#1C86EE" fill-opacity="0.22"/>
<rect x="180.76" y="113.40" width="30.99" height="2.20" fill="#1C86EE" fill-opacity="0.67"/>
<rect x="180.76" y="115.60" width="30.99" height="1.10" fill="#1C86EE" fill-opacity="0.22"/>
<rect x="180.76" y="116.70" width="30.99" height="1.20" fill="#1C86EE" fill-opacity="0.33"/>
<rect x="180.76" y="117.90" width="30.99" height="2.10" fill="#1C86EE" fill-opacity="0.67"/>
<rect x="180.76" y="120.00" width="30.99" height="1.50" fill="#1C86EE" fill-opacity="0.22"/>
<rect x="180.76" y="121.50" width="30.99" height="0.90" fill="#1C86EE" fill-opacity="0.56"/>
<rect x="180.76" y="122.40" width="30.99" height="1.40" fill="#1C86EE" fill-opacity="0.22"/>
<rect x="180.76" y="123.80" width="30.99" height="2.20" fill="#1C86EE" fill-opacity="0.44"/>
<rect x="180.76" y="126.00" width="30.99" height="1.80" fill="#1C86EE" fill-opacity="0.67"/>
<rect x="180.76" y="127.80" width="30.99" height="1.40" fill="#1C86EE" fill-opacity="0.33"/>
<rect x="180.76" y="129.20" width="30.99" height="2.30" fill="#1C86EE" fill-opacity="0.44"/>
<rect x="180.76" y="131.50" width="30.99" height="1.30" fill="#1C86EE" fill-opacity="0.67"/>
<rect x="180.76" y="132.80" width="30.99" height="2.70" fill="#1C86EE" fill-opacity="0.11"/>
<rect x="180.76" y="135.50" width="30.99" height="2.30" fill="#1C86EE" fill-opacity="0.33"/>
<rect x="180.76" y="137.80" width="30.99" height="2.30" fill="#1C86EE" fill-opacity="0.78"/>
<rect x="180.76" y="140.10" width="30.99" height="1.30" fill="#1C86EE" fill-opacity="0.33"/>
<rect x="180.76" y="141.40" width="30.99" height="2.30" fill="#1C86EE" fill-opacity="0.44"/>
<rect x="180.76" y="143.70" width="30.99" height="1.10" fill="#1C86EE" fill-opacity="0.22"/>
<rect x="180.76" y="144.80" width="30.99" height="1.10" fill="#1C86EE" fill-opacity="0.67"/>
<rect x="180.76" y="145.90" width="30.99" height="1.40" fill="#1C86EE" fill-opacity="0.22"/>
<rect x="180.76" y="147.30" width="30.99" height="0.70" fill="#1C86EE" fill-opacity="0.44"/>
<rect x="180.76" y="148.00" width="30.99" height="2.00" fill="#1C86EE" fill-opacity="0.11"/>
<rect x="180.76" y="150.00" width="30.99" height="2.10" fill="#1C86EE" fill-opacity="0.78"/>
<rect x="180.76" y="152.10" width="30.99" height="1.50" fill="#1C86EE" fill-opacity="0.44"/>
<rect x="180.76" y="153.60" width="30.99" height="0.70" fill="#1C86EE" fill-opacity="0.11"/>
<rect x="180.76" y="154.30" width="30.99" height="0.90" fill="#1C86EE" fill-opacity="0.33"/>
<rect x="180.76" y="155.20" width="30.99" height="0.90" fill="#1C86EE" fill-opacity="0.11"/>
<rect x="180.76" y="156.10" width="30.99" height="1.00" fill="#1C86EE" fill-opacity="0.33"/>
<rect x="180.76" y="157.10" width="30.99" height="2.70" fill="#1C86EE" fill-opacity="0.78"/>
<rect x="180.76" y="159.80" width="30.99" height="1.80" fill="#1C86EE" fill-opacity="0.22"/>
<rect x="180.76" y="161.60" width="30.99" height="1.80" fill="#1C86EE" fill-opacity="0.44"/>
<rect x="180.76" y="163.40" width="30.99" height="0.90" fill="#1C86EE" fill-opacity="0.22"/>
<rect x="180.76" y="166.10" width="30.99" height="1.40" fill="#1C86EE" fill-opacity="0.33"/>
<rect x="180.76" y="167.50" width="30.99" height="1.30" fill="#1C86EE" fill-opacity="0.44"/>
<rect x="180.76" y="168.80" width="30.99" height="2.30" fill="#1C86EE" fill-opacity="0.11"/>
<rect x="180.76" y="171.10" width="30.99" height="1.80" fill="#1C86EE" fill-opacity="0.33"/>
<rect x="180.76" y="175.20" width="30.99" height="1.60" fill="#1C86EE" fill-opacity="0.22"/>
<rect x="180.76" y="176.80" width="30.99" height="1.20" fill="#1C86EE" fill-opacity="0.44"/>
<rect x="180.76" y="178.00" width="30.99" height="1.20" fill="#1C86EE" fill-opacity="0.22"/>
<rect x="180.76" y="179.20" width="30.99" height="1.60" fill="#1C86EE" fill-opacity="0.78"/>
<rect x="180.76" y="180.80" width="30.99" height="1.10" fill="#1C86EE" fill-opacity="0.11"/>
<rect x="180.76" y="183.80" width="30.99" height="1.30" fill="#1C86EE" fill-opacity="0.56"/>
<rect x="180.76" y="185.10" width="30.99" height="1.40" fill="#1C86EE" fill-opacity="0.33"/>
<rect x="180.76" y="186.50" width="30.99" height="1.30" fill="#1C86EE" fill-opacity="0.56"/>
<rect x="180.76" y="187.80" width="30.99" height="1.80" fill="#1C86EE" fill-opacity="0.11"/>
<rect x="180.76" y="191.00" width="30.99" height="0.90" fill="#1C86EE" fill-opacity="0.44"/>
<rect x="180.76" y="191.90" width="30.99" height="0.90" fill="#1C86EE" fill-opacity="0.11"/>
<rect x="180.76" y="192.80" width="30.99" height="0.90" fill="#1C86EE" fill-opacity="0.33"/>
<rect x="180.76" y="193.70" width="30.99" height="3.20" fill="#1C86EE" fill-opacity="0.11"/>
<rect x="180.76" y="196.90" width="30.99" height="0.90" fill="#1C86EE" fill-opacity="0.44"/>
<rect x="180.76" y="197.80" width="30.99" height="4.50" fill="#1C86EE" fill-opacity="0.11"/>
<rect x="180.76" y="202.30" width="30.99" height="1.70" fill="#1C86EE" fill-opacity="0.33"/>
<rect x="180.76" y="204.00" width="30.99" height="0.80" fill="#1C86EE" fill-opacity="0.56"/>
<rect x="180.76" y="204.80" width="30.99" height="1.10" fill="#1C86EE" fill-opacity="0.11"/>
<rect x="180.76" y="206.60" width="30.99" height="1.80" fill="#1C86EE" fill-opacity="0.22"/>
<rect x="180.76" y="220.80" width="30.99" height="0.90" fill="#1C86EE" fill-opacity="0.33"/>
<rect x="180.76" y="223.90" width="30.99" height="1.00" fill="#1C86EE" fill-opacity="0.33"/>
<rect x="180.76" y="244.80" width="30.99" height="1.40" fill="#1C86EE" fill-opacity="0.22"/>
<rect x="180.76" y="246.90" width="30.99" height="0.90" fill="#1C86EE" fill-opacity="0.44"/>
<rect x="180.76" y="251.70" width="30.99" height="1.10" fill="#1C86EE" fill-opacity="0.33"/>
<rect x="180.76" y="254.70" width="30.99" height="1.30" fill="#1C86EE" fill-opacity="0.67"/>
<rect x="180.76" y="256.50" width="30.99" height="1.30" fill="#1C86EE" fill-opacity="0.22"/>
<rect x="180.76" y="262.60" width="30.99" height="1.10" fill="#1C86EE" fill-opacity="0.44"/>
<rect x="180.76" y="272.00" width="30.99" height="0.90" fill="#1C86EE" fill-opacity="0.44"/>
<rect x="180.76" y="275.70" width="30.99" height="1.30" fill="#1C86EE" fill-opacity="0.22"/>
<rect x="180.76" y="280.50" width="30.99" height="1.30" fill="#1C86EE" fill-opacity="0.33"/>
<rect x="180.76" y="283.50" width="30.99" height="1.10" fill="#1C86EE" fill-opacity="0.22"/>
<rect x="180.76" y="290.10" width="30.99" height="1.60" fill="#1C86EE" fill-opacity="0.33"/>
<rect x="180.76" y="294.90" width="30.99" height="0.90" fill="#1C86EE" fill-opacity="0.56"/>
<rect x="180.76" y="302.70" width="30.99" height="1.10" fill="#1C86EE" fill-opacity="0.44"/>
<rect x="180.76" y="304.90" width="30.99" height="1.40" fill="#1C86EE" fill-opacity="0.22"/>
<rect x="180.76" y="311.80" width="30.99" height="0.90" fill="#1C86EE" fill-opacity="0.67"/>
<rect x="180.76" y="319.70" width="30.99" height="1.10" fill="#1C86EE" fill-opacity="0.33"/>
<rect x="180.76" y="326.90" width="30.99" height="1.80" fill="#1C86EE" fill-opacity="0.78"/>
<rect x="180.76" y="336.90" width="30.99" height="1.00" fill="#1C86EE" fill-opacity="0.22"/>
<rect x="180.76" y="341.00" width="30.99" height="0.70" fill="#1C86EE" fill-opacity="0.33"/>
<rect x="180.76" y="345.10" width="30.99" height="1.40" fill="#1C86EE" fill-opacity="0.44"/>
<rect x="180.76" y="349.90" width="30.99" height="1.10" fill="#1C86EE" fill-opacity="0.33"/>
<rect x="180.76" y="355.10" width="30.99" height="1.00" fill="#1C86EE" fill-opacity="0.44"/>
<rect x="180.76" y="356.80" width="30.99" height="1.10" fill="#1C86EE" fill-opacity="0.67"/>
<rect x="180.76" y="358.90" width="30.99" height="0.90" fill="#1C86EE" fill-opacity="0.44"/>
<rect x="180.76" y="366.40" width="30.99" height="1.40" fill="#1C86EE" fill-opacity="0.22"/>
<rect x="180.76" y="368.00" width="30.99" height="0.90" fill="#1C86EE" fill-opacity="0.33"/>
<rect x="180.76" y="371.90" width="30.99" height="1.00" fill="#1C86EE" fill-opacity="0.33"/>
<rect x="180.76" y="377.10" width="30.99" height="1.40" fill="#1C86EE" fill-opacity="0.44"/>
<rect x="180.76" y="382.20" width="30.99" height="1.80" fill="#1C86EE" fill-opacity="0.44"/>
<rect x="180.76" y="384.00" width="30.99" height="1.60" fill="#1C86EE" fill-opacity="0.11"/>
<rect x="180.76" y="387.70" width="30.99" height="1.30" fill="#1C86EE" fill-opacity="0.67"/>
<rect x="180.76" y="389.00" width="30.99" height="2.80" fill="#1C86EE" fill-opacity="0.44"/>
<rect x="180.76" y="394.10" width="30.99" height="1.80" fill="#1C86EE" fill-opacity="0.11"/>
<rect x="180.76" y="398.00" width="30.99" height="1.30" fill="#1C86EE" fill-opacity="0.33"/>
<rect x="180.76" y="404.80" width="30.99" height="1.10" fill="#1C86EE" fill-opacity="0.44"/>
<rect x="180.76" y="411.70" width="30.99" height="1.10" fill="#1C86EE" fill-opacity="0.44"/>
<rect x="180.76" y="418.80" width="30.99" height="1.10" fill="#1C86EE" fill-opacity="0.44"/>
<rect x="180.76" y="422.90" width="30.99" height="1.40" fill="#1C86EE" fill-opacity="0.44"/>
<rect x="180.76" y="426.80" width="30.99" height="1.10" fill="#1C86EE" fill-opacity="0.44"/>
<rect x="180.76" y="428.40" width="30.99" height="1.50" fill="#1C86EE" fill-opacity="0.11"/>
<rect x="180.76" y="432.80" width="30.99" height="1.40" fill="#1C86EE" fill-opacity="0.22"/>
<rect x="180.76" y="434.50" width="30.99" height="2.00" fill="#1C86EE" fill-opacity="0.33"/>
<rect x="180.76" y="441.10" width="30.99" height="0.90" fill="#1C86EE" fill-opacity="0.56"/>
<rect x="180.76" y="454.00" width="30.99" height="1.10" fill="#1C86EE" fill-opacity="0.44"/>
<rect x="180.76" y="472.20" width="30.99" height="1.40" fill="#1C86EE" fill-opacity="0.67"/>
<rect x="180.76" y="477.00" width="30.99" height="1.00" fill="#1C86EE" fill-opacity="0.56"/>
<rect x="180.76" y="482.80" width="30.99" height="1.40" fill="#1C86EE" fill-opacity="0.22"/>
<rect x="180.76" y="500.10" width="30.99" height="1.40" fill="#1C86EE" fill-opacity="0.56"/>
<rect x="180.76" y="508.90" width="30.99" height="1.30" fill="#1C86EE" fill-opacity="0.22"/>
<rect x="180.76" y="512.00" width="30.99" height="1.00" fill="#1C86EE" fill-opacity="0.44"/>
<rect x="180.76" y="514.10" width="30.99" height="1.10" fill="#1C86EE" fill-opacity="0.33"/>
<rect x="180.76" y="515.70" width="30.99" height="1.80" fill="#1C86EE" fill-opacity="0.44"/>
<rect x="180.76" y="534.70" width="30.99" height="1.30" fill="#1C86EE" fill-opacity="0.22"/>
<rect x="180.76" y="546.00" width="30.99" height="1.50" fill="#1C86EE" fill-opacity="0.33"/>
<rect x="180.76" y="548.90" width="30.99" height="1.00" fill="#1C86EE" fill-opacity="0.33"/>
<rect x="180.76" y="561.80" width="30.99" height="1.00" fill="#1C86EE" fill-opacity="0.78"/>
<rect x="180.76" y="570.90" width="30.99" height="1.00" fill="#1C86EE" fill-opacity="0.56"/>
<rect x="180.76" y="574.10" width="30.99" height="0.80" fill="#1C86EE" fill-opacity="0.44"/>
<rect x="180.76" y="579.10" width="30.99" height="0.70" fill="#1C86EE" fill-opacity="0.67"/>
<rect x="180.76" y="583.00" width="30.99" height="1.10" fill="#1C86EE" fill-opacity="0.56"/>
<rect x="180.76" y="589.10" width="30.99" height="0.80" fill="#1C86EE" fill-opacity="0.22"/>
<rect x="180.76" y="594.20" width="30.99" height="1.70" fill="#1C86EE" fill-opacity="0.56"/>
<rect x="180.76" y="597.90" width="30.99" height="1.20" fill="#1C86EE" fill-opacity="0.67"/>
<rect x="180.76" y="617.90" width="30.99" height="0.70" fill="#1C86EE" fill-opacity="0.22"/>
<rect x="180.76" y="619.80" width="30.99" height="1.00" fill="#1C86EE" fill-opacity="0.22"/>
<rect x="180.76" y="621.80" width="30.99" height="1.80" fill="#1C86EE" fill-opacity="0.11"/>
<rect x="180.76" y="625.80" width="30.99" height="1.20" fill="#1C86EE" fill-opacity="0.22"/>
<rect x="180.76" y="628.00" width="30.99" height="1.40" fill="#1C86EE" fill-opacity="0.22"/>
<rect x="180.76" y="638.40" width="30.99" height="1.50" fill="#1C86EE" fill-opacity="0.44"/>
<rect x="180.76" y="643.80" width="30.99" height="1.00" fill="#1C86EE" fill-opacity="0.33"/>
<rect x="180.76" y="651.00" width="30.99" height="1.00" fill="#1C86EE" fill-opacity="0.56"/>
<rect x="211.74" y="94.10" width="30.99" height="0.90" fill="#1C86EE" fill-opacity="0.56"/>
<rect x="211.74" y="95.00" width="30.99" height="0.90" fill="#1C86EE" fill-opacity="0.22"/>
<rect x="211.74" y="95.90" width="30.99" height="1.40" fill="#1C86EE" fill-opacity="0.67"/>
<rect x="211.74" y="97.30" width="30.99" height="0.70" fill="#1C86EE" fill-opacity="0.33"/>
<rect x="211.74" y="98.00" width="30.99" height="2.10" fill="#1C86EE"/>
<rect x="211.74" y="100.10" width="30.99" height="2.00" fill="#1C86EE" fill-opacity="0.33"/>
<rect x="211.74" y="102.10" width="30.99" height="2.20" fill="#1C86EE" fill-opacity="0.44"/>
<rect x="211.74" y="104.30" width="30.99" height="0.90" fill="#1C86EE" fill-opacity="0.67"/>
<rect x="211.74" y="107.00" width="30.99" height="2.70" fill="#1C86EE" fill-opacity="0.67"/>
<rect x="211.74" y="109.70" width="30.99" height="1.90" fill="#1C86EE" fill-opacity="0.11"/>
<rect x="211.74" y="111.60" width="30.99" height="1.80" fill="#1C86EE" fill-opacity="0.22"/>
<rect x="211.74" y="114.70" width="30.99" height="2.30" fill="#1C86EE" fill-opacity="0.44"/>
<rect x="211.74" y="117.00" width="30.99" height="1.30" fill="#1C86EE" fill-opacity="0.22"/>
<rect x="211.74" y="118.30" width="30.99" height="1.90" fill="#1C86EE" fill-opacity="0.44"/>
<rect x="211.74" y="120.20" width="30.99" height="1.60" fill="#1C86EE" fill-opacity="0.33"/>
<rect x="211.74" y="121.80" width="30.99" height="1.10" fill="#1C86EE" fill-opacity="0.11"/>
<rect x="211.74" y="122.90" width="30.99" height="1.30" fill="#1C86EE" fill-opacity="0.44"/>
<rect x="211.74" y="125.10" width="30.99" height="2.30" fill="#1C86EE" fill-opacity="0.56"/>
<rect x="211.74" y="127.40" width="30.99" height="1.80" fill="#1C86EE" fill-opacity="0.44"/>
<rect x="211.74" y="129.20" width="30.99" height="1.80" fill="#1C86EE" fill-opacity="0.33"/>
<rect x="211.74" y="131.00" width="30.99" height="1.10" fill="#1C86EE" fill-opacity="0.78"/>
<rect x="211.74" y="132.10" width="30.99" height="1.60" fill="#1C86EE" fill-opacity="0.22"/>
<rect x="211.74" y="133.70" width="30.99" height="2.70" fill="#1C86EE" fill-opacity="0.33"/>
<rect x="211.74" y="140.10" width="30.99" height="0.90" fill="#1C86EE" fill-opacity="0.22"/>
<rect x="211.74" y="146.40" width="30.99" height="1.40" fill="#1C86EE" fill-opacity="0.89"/>
<rect x="211.74" y="147.80" width="30.99" height="0.20" fill="#1C86EE" fill-opacity="0.33"/>
<rect x="211.74" y="148.00" width="30.99" height="2.00" fill="#1C86EE" fill-opacity="0.11"/>
<rect x="211.74" y="150.00" width="30.99" height="3.60" fill="#1C86EE" fill-opacity="0.78"/>
<rect x="211.74" y="153.60" width="30.99" height="1.20" fill="#1C86EE" fill-opacity="0.33"/>
<rect x="211.74" y="154.80" width="30.99" height="1.30" fill="#1C86EE" fill-opacity="0.22"/>
<rect x="211.74" y="156.10" width="30.99" height="1.00" fill="#1C86EE" fill-opacity="0.33"/>
<rect x="211.74" y="157.10" width="30.99" height="0.90" fill="#1C86EE" fill-opacity="0.44"/>
<rect x="211.74" y="158.00" width="30.99" height="0.90" fill="#1C86EE" fill-opacity="0.11"/>
<rect x="211.74" y="158.90" width="30.99" height="0.90" fill="#1C86EE" fill-opacity="0.67"/>
<rect x="211.74" y="159.80" width="30.99" height="1.80" fill="#1C86EE" fill-opacity="0.33"/>
<rect x="211.74" y="161.60" width="30.99" height="1.80" fill="#1C86EE" fill-opacity="0.44"/>
<rect x="211.74" y="163.40" width="30.99" height="1.30" fill="#1C86EE" fill-opacity="0.67"/>
<rect x="211.74" y="164.70" width="30.99" height="1.40" fill="#1C86EE" fill-opacity="0.22"/>
<rect x="211.74" y="166.10" width="30.99" height="1.10" fill="#1C86EE" fill-opacity="0.78"/>
<rect x="211.74" y="167.20" width="30.99" height="4.30" fill="#1C86EE" fill-opacity="0.22"/>
<rect x="211.74" y="171.50" width="30.99" height="1.40" fill="#1C86EE" fill-opacity="0.33"/>
<rect x="211.74" y="172.90" width="30.99" height="2.30" fill="#1C86EE" fill-opacity="0.11"/>
<rect x="211.74" y="175.20" width="30.99" height="2.20" fill="#1C86EE" fill-opacity="0.33"/>
<rect x="211.74" y="177.40" width="30.99" height="3.20" fill="#1C86EE" fill-opacity="0.56"/>
<rect x="211.74" y="180.60" width="30.99" height="1.30" fill="#1C86EE" fill-opacity="0.22"/>
<rect x="211.74" y="181.90" width="30.99" height="0.90" fill="#1C86EE" fill-opacity="0.44"/>
<rect x="211.74" y="182.80" width="30.99" height="4.10" fill="#1C86EE" fill-opacity="0.11"/>
<rect x="211.74" y="186.90" width="30.99" height="1.80" fill="#1C86EE" fill-opacity="0.67"/>
<rect x="211.74" y="188.70" width="30.99" height="1.80" fill="#1C86EE" fill-opacity="0.22"/>
<rect x="211.74" y="190.50" width="30.99" height="1.40" fill="#1C86EE" fill-opacity="0.44"/>
<rect x="211.74" y="191.90" width="30.99" height="3.20" fill="#1C86EE" fill-opacity="0.11"/>
<rect x="211.74" y="195.10" width="30.99" height="2.70" fill="#1C86EE" fill-opacity="0.44"/>
<rect x="211.74" y="197.80" width="30.99" height="4.10" fill="#1C86EE" fill-opacity="0.11"/>
<rect x="211.74" y="201.90" width="30.99" height="1.30" fill="#1C86EE" fill-opacity="0.44"/>
<rect x="211.74" y="203.20" width="30.99" height="0.80" fill="#1C86EE" fill-opacity="0.22"/>
<rect x="211.74" y="204.00" width="30.99" height="1.90" fill="#1C86EE" fill-opacity="0.11"/>
<rect x="211.74" y="206.60" width="30.99" height="1.10" fill="#1C86EE" fill-opacity="0.44"/>
<rect x="211.74" y="223.50" width="30.99" height="1.00" fill="#1C86EE" fill-opacity="0.33"/>
<rect x="211.74" y="226.70" width="30.99" height="0.90" fill="#1C86EE" fill-opacity="0.67"/>
<rect x="211.74" y="242.70" width="30.99" height="1.10" fill="#1C86EE" fill-opacity="0.22"/>
<rect x="211.74" y="254.70" width="30.99" height="1.30" fill="#1C86EE" fill-opacity="0.33"/>
<rect x="211.74" y="256.50" width="30.99" height="1.10" fill="#1C86EE" fill-opacity="0.44"/>
<rect x="211.74" y="262.60" width="30.99" height="1.10" fill="#1C86EE" fill-opacity="0.44"/>
<rect x="211.74" y="272.90" width="30.99" height="1.00" fill="#1C86EE" fill-opacity="0.56"/>
<rect x="211.74" y="275.70" width="30.99" height="0.90" fill="#1C86EE" fill-opacity="0.22"/>
<rect x="211.74" y="277.50" width="30.99" height="1.30" fill="#1C86EE" fill-opacity="0.67"/>
<rect x="211.74" y="280.50" width="30.99" height="2.00" fill="#1C86EE" fill-opacity="0.22"/>
<rect x="211.74" y="287.70" width="30.99" height="1.00" fill="#1C86EE" fill-opacity="0.33"/>
<rect x="211.74" y="290.80" width="30.99" height="0.90" fill="#1C86EE" fill-opacity="0.56"/>
<rect x="211.74" y="294.90" width="30.99" height="0.90" fill="#1C86EE" fill-opacity="0.67"/>
<rect x="211.74" y="296.90" width="30.99" height="1.10" fill="#1C86EE" fill-opacity="0.33"/>
<rect x="211.74" y="304.90" width="30.99" height="1.40" fill="#1C86EE" fill-opacity="0.22"/>
<rect x="211.74" y="325.90" width="30.99" height="1.80" fill="#1C86EE" fill-opacity="0.22"/>
<rect x="211.74" y="330.00" width="30.99" height="1.00" fill="#1C86EE" fill-opacity="0.56"/>
<rect x="211.74" y="336.90" width="30.99" height="1.00" fill="#1C86EE" fill-opacity="0.56"/>
<rect x="211.74" y="356.80" width="30.99" height="1.10" fill="#1C86EE" fill-opacity="0.44"/>
<rect x="211.74" y="362.00" width="30.99" height="1.00" fill="#1C86EE" fill-opacity="0.44"/>
<rect x="211.74" y="368.00" width="30.99" height="0.90" fill="#1C86EE" fill-opacity="0.44"/>
<rect x="211.74" y="369.80" width="30.99" height="1.00" fill="#1C86EE" fill-opacity="0.56"/>
<rect x="211.74" y="377.10" width="30.99" height="1.40" fill="#1C86EE" fill-opacity="0.44"/>
<rect x="211.74" y="388.10" width="30.99" height="0.80" fill="#1C86EE" fill-opacity="0.44"/>
<rect x="211.74" y="391.10" width="30.99" height="2.10" fill="#1C86EE" fill-opacity="0.22"/>
<rect x="211.74" y="406.20" width="30.99" height="0.80" fill="#1C86EE" fill-opacity="0.44"/>
<rect x="211.74" y="407.80" width="30.99" height="1.10" fill="#1C86EE" fill-opacity="0.56"/>
<rect x="211.74" y="425.10" width="30.99" height="1.70" fill="#1C86EE" fill-opacity="0.33"/>
<rect x="211.74" y="428.20" width="30.99" height="1.30" fill="#1C86EE" fill-opacity="0.33"/>
<rect x="211.74" y="430.00" width="30.99" height="0.10" fill="#1C86EE" fill-opacity="0.22"/>
<rect x="211.74" y="431.50" width="30.99" height="1.30" fill="#1C86EE" fill-opacity="0.67"/>
<rect x="211.74" y="433.80" width="30.99" height="2.10" fill="#1C86EE" fill-opacity="0.22"/>
<rect x="211.74" y="441.10" width="30.99" height="0.90" fill="#1C86EE" fill-opacity="0.56"/>
<rect x="211.74" y="446.80" width="30.99" height="2.80" fill="#1C86EE" fill-opacity="0.33"/>
<rect x="211.74" y="454.80" width="30.99" height="1.00" fill="#1C86EE" fill-opacity="0.56"/>
<rect x="211.74" y="460.80" width="30.99" height="1.10" fill="#1C86EE" fill-opacity="0.44"/>
<rect x="211.74" y="467.70" width="30.99" height="1.10" fill="#1C86EE" fill-opacity="0.22"/>
<rect x="211.74" y="472.60" width="30.99" height="1.10" fill="#1C86EE" fill-opacity="0.67"/>
<rect x="211.74" y="477.70" width="30.99" height="1.00" fill="#1C86EE" fill-opacity="0.56"/>
<rect x="211.74" y="488.00" width="30.99" height="1.70" fill="#1C86EE" fill-opacity="0.67"/>
<rect x="211.74" y="500.40" width="30.99" height="1.30" fill="#1C86EE" fill-opacity="0.67"/>
<rect x="211.74" y="503.10" width="30.99" height="1.10" fill="#1C86EE" fill-opacity="0.44"/>
<rect x="211.74" y="504.70" width="30.99" height="1.10" fill="#1C86EE" fill-opacity="0.33"/>
<rect x="211.74" y="508.30" width="30.99" height="1.90" fill="#1C86EE" fill-opacity="0.33"/>
<rect x="211.74" y="512.70" width="30.99" height="2.80" fill="#1C86EE" fill-opacity="0.22"/>
<rect x="211.74" y="516.30" width="30.99" height="1.20" fill="#1C86EE" fill-opacity="0.33"/>
<rect x="211.74" y="521.20" width="30.99" height="1.80" fill="#1C86EE" fill-opacity="0.44"/>
<rect x="211.74" y="526.20" width="30.99" height="1.60" fill="#1C86EE" fill-opacity="0.44"/>
<rect x="211.74" y="534.70" width="30.99" height="1.10" fill="#1C86EE" fill-opacity="0.22"/>
<rect x="211.74" y="543.60" width="30.99" height="1.40" fill="#1C86EE" fill-opacity="0.67"/>
<rect x="211.74" y="551.10" width="30.99" height="2.80" fill="#1C86EE" fill-opacity="0.33"/>
<rect x="211.74" y="556.80" width="30.99" height="2.20" fill="#1C86EE" fill-opacity="0.11"/>
<rect x="211.74" y="562.30" width="30.99" height="2.00" fill="#1C86EE" fill-opacity="0.22"/>
<rect x="211.74" y="569.00" width="30.99" height="1.00" fill="#1C86EE" fill-opacity="0.44"/>
<rect x="211.74" y="571.20" width="30.99" height="0.70" fill="#1C86EE" fill-opacity="0.22"/>
<rect x="211.74" y="574.10" width="30.99" height="1.00" fill="#1C86EE" fill-opacity="0.22"/>
<rect x="211.74" y="578.10" width="30.99" height="1.40" fill="#1C86EE" fill-opacity="0.56"/>
<rect x="211.74" y="589.10" width="30.99" height="1.50" fill="#1C86EE" fill-opacity="0.11"/>
<rect x="211.74" y="594.50" width="30.99" height="1.40" fill="#1C86EE" fill-opacity="0.56"/>
<rect x="211.74" y="601.10" width="30.99" height="0.80" fill="#1C86EE" fill-opacity="0.33"/>
<rect x="211.74" y="608.60" width="30.99" height="1.40" fill="#1C86EE" fill-opacity="0.67"/>
<rect x="211.74" y="611.70" width="30.99" height="1.20" fill="#1C86EE" fill-opacity="0.44"/>
<rect x="211.74" y="615.00" width="30.99" height="0.70" fill="#1C86EE" fill-opacity="0.33"/>
<rect x="211.74" y="635.90" width="30.99" height="2.10" fill="#1C86EE" fill-opacity="0.22"/>
<rect x="211.74" y="643.80" width="30.99" height="1.00" fill="#1C86EE" fill-opacity="0.33"/>
<rect x="211.74" y="646.20" width="30.99" height="0.90" fill="#1C86EE" fill-opacity="0.56"/>
<rect x="211.74" y="653.80" width="30.99" height="1.00" fill="#1C86EE" fill-opacity="0.22"/>
<rect x="242.73" y="96.20" width="30.99" height="1.30" fill="#1C86EE" fill-opacity="0.33"/>
<rect x="242.73" y="97.50" width="30.99" height="2.60" fill="#1C86EE" fill-opacity="0.89"/>
<rect x="242.73" y="101.00" width="30.99" height="1.50" fill="#1C86EE" fill-opacity="0.44"/>
<rect x="242.73" y="109.30" width="30.99" height="0.90" fill="#1C86EE" fill-opacity="0.22"/>
<rect x="242.73" y="111.80" width="30.99" height="1.10" fill="#1C86EE" fill-opacity="0.89"/>
<rect x="242.73" y="113.60" width="30.99" height="2.00" fill="#1C86EE" fill-opacity="0.44"/>
<rect x="242.73" y="115.60" width="30.99" height="1.10" fill="#1C86EE" fill-opacity="0.22"/>
<rect x="242.73" y="118.20" width="30.99" height="2.00" fill="#1C86EE" fill-opacity="0.44"/>
<rect x="242.73" y="120.20" width="30.99" height="1.60" fill="#1C86EE" fill-opacity="0.33"/>
<rect x="242.73" y="124.20" width="30.99" height="2.10" fill="#1C86EE" fill-opacity="0.33"/>
<rect x="242.73" y="126.30" width="30.99" height="1.50" fill="#1C86EE" fill-opacity="0.78"/>
<rect x="242.73" y="129.00" width="30.99" height="1.60" fill="#1C86EE" fill-opacity="0.67"/>
<rect x="242.73" y="131.90" width="30.99" height="0.70" fill="#1C86EE" fill-opacity="0.22"/>
<rect x="242.73" y="135.50" width="30.99" height="0.90" fill="#1C86EE" fill-opacity="0.22"/>
<rect x="242.73" y="140.10" width="30.99" height="0.90" fill="#1C86EE" fill-opacity="0.33"/>
<rect x="242.73" y="146.90" width="30.99" height="1.10" fill="#1C86EE" fill-opacity="0.67"/>
<rect x="242.73" y="148.00" width="30.99" height="1.40" fill="#1C86EE" fill-opacity="0.44"/>
<rect x="242.73" y="149.40" width="30.99" height="1.30" fill="#1C86EE" fill-opacity="0.89"/>
<rect x="242.73" y="150.70" width="30.99" height="0.90" fill="#1C86EE" fill-opacity="0.22"/>
<rect x="242.73" y="151.60" width="30.99" height="1.10" fill="#1C86EE" fill-opacity="0.44"/>
<rect x="242.73" y="152.70" width="30.99" height="1.20" fill="#1C86EE" fill-opacity="0.67"/>
<rect x="242.73" y="153.90" width="30.99" height="1.80" fill="#1C86EE" fill-opacity="0.44"/>
<rect x="242.73" y="156.90" width="30.99" height="1.10" fill="#1C86EE" fill-opacity="0.67"/>
<rect x="242.73" y="158.00" width="30.99" height="0.90" fill="#1C86EE" fill-opacity="0.33"/>
<rect x="242.73" y="158.90" width="30.99" height="0.90" fill="#1C86EE" fill-opacity="0.56"/>
<rect x="242.73" y="160.70" width="30.99" height="1.30" fill="#1C86EE" fill-opacity="0.56"/>
<rect x="242.73" y="162.90" width="30.99" height="1.80" fill="#1C86EE" fill-opacity="0.67"/>
<rect x="242.73" y="166.60" width="30.99" height="1.30" fill="#1C86EE" fill-opacity="0.78"/>
<rect x="242.73" y="169.70" width="30.99" height="0.90" fill="#1C86EE" fill-opacity="0.56"/>
<rect x="242.73" y="174.70" width="30.99" height="1.80" fill="#1C86EE" fill-opacity="0.33"/>
<rect x="242.73" y="176.80" width="30.99" height="1.20" fill="#1C86EE" fill-opacity="0.44"/>
<rect x="242.73" y="179.70" width="30.99" height="0.90" fill="#1C86EE" fill-opacity="0.56"/>
<rect x="242.73" y="184.20" width="30.99" height="0.50" fill="#1C86EE" fill-opacity="0.44"/>
<rect x="242.73" y="190.10" width="30.99" height="3.00" fill="#1C86EE" fill-opacity="0.44"/>
<rect x="242.73" y="195.10" width="30.99" height="0.90" fill="#1C86EE" fill-opacity="0.56"/>
<rect x="242.73" y="201.40" width="30.99" height="1.40" fill="#1C86EE" fill-opacity="0.89"/>
<rect x="242.73" y="204.00" width="30.99" height="0.80" fill="#1C86EE" fill-opacity="0.44"/>
<rect x="242.73" y="206.10" width="30.99" height="0.30" fill="#1C86EE" fill-opacity="0.33"/>
<rect x="242.73" y="206.60" width="30.99" height="1.80" fill="#1C86EE" fill-opacity="0.78"/>
<rect x="242.73" y="210.80" width="30.99" height="1.10" fill="#1C86EE" fill-opacity="0.33"/>
<rect x="242.73" y="217.10" width="30.99" height="0.90" fill="#1C86EE" fill-opacity="0.33"/>
<rect x="242.73" y="222.80" width="30.99" height="1.00" fill="#1C86EE" fill-opacity="0.56"/>
<rect x="242.73" y="224.90" width="30.99" height="1.00" fill="#1C86EE" fill-opacity="0.56"/>
<rect x="242.73" y="229.00" width="30.99" height="1.40" fill="#1C86EE" fill-opacity="0.78"/>
<rect x="242.73" y="235.20" width="30.99" height="4.40" fill="#1C86EE" fill-opacity="0.33"/>
<rect x="242.73" y="248.00" width="30.99" height="0.90" fill="#1C86EE" fill-opacity="0.56"/>
<rect x="242.73" y="249.90" width="30.99" height="0.80" fill="#1C86EE" fill-opacity="0.56"/>
<rect x="242.73" y="255.80" width="30.99" height="1.30" fill="#1C86EE" fill-opacity="0.67"/>
<rect x="242.73" y="260.60" width="30.99" height="0.90" fill="#1C86EE" fill-opacity="0.22"/>
<rect x="242.73" y="265.80" width="30.99" height="1.00" fill="#1C86EE" fill-opacity="0.56"/>
<rect x="242.73" y="271.10" width="30.99" height="1.80" fill="#1C86EE" fill-opacity="0.33"/>
<rect x="242.73" y="276.60" width="30.99" height="1.10" fill="#1C86EE" fill-opacity="0.56"/>
<rect x="242.73" y="280.20" width="30.99" height="1.60" fill="#1C86EE" fill-opacity="0.56"/>
<rect x="242.73" y="294.90" width="30.99" height="0.90" fill="#1C86EE" fill-opacity="0.67"/>
<rect x="242.73" y="298.00" width="30.99" height="0.90" fill="#1C86EE" fill-opacity="0.56"/>
<rect x="242.73" y="319.70" width="30.99" height="1.10" fill="#1C86EE" fill-opacity="0.67"/>
<rect x="242.73" y="328.00" width="30.99" height="0.80" fill="#1C86EE" fill-opacity="0.44"/>
<rect x="242.73" y="333.70" width="30.99" height="1.10" fill="#1C86EE" fill-opacity="0.33"/>
<rect x="242.73" y="336.90" width="30.99" height="1.00" fill="#1C86EE" fill-opacity="0.44"/>
<rect x="242.73" y="345.80" width="30.99" height="0.80" fill="#1C86EE" fill-opacity="0.33"/>
<rect x="242.73" y="352.40" width="30.99" height="1.70" fill="#1C86EE" fill-opacity="0.44"/>
<rect x="242.73" y="354.70" width="30.99" height="1.10" fill="#1C86EE" fill-opacity="0.56"/>
<rect x="242.73" y="356.80" width="30.99" height="3.00" fill="#1C86EE" fill-opacity="0.22"/>
<rect x="242.73" y="370.80" width="30.99" height="1.10" fill="#1C86EE" fill-opacity="0.56"/>
<rect x="242.73" y="376.80" width="30.99" height="1.00" fill="#1C86EE" fill-opacity="0.56"/>
<rect x="242.73" y="384.00" width="30.99" height="1.60" fill="#1C86EE" fill-opacity="0.22"/>
<rect x="242.73" y="387.70" width="30.99" height="0.90" fill="#1C86EE" fill-opacity="0.33"/>
<rect x="242.73" y="391.10" width="30.99" height="0.80" fill="#1C86EE" fill-opacity="0.44"/>
<rect x="242.73" y="396.60" width="30.99" height="1.10" fill="#1C86EE" fill-opacity="0.56"/>
<rect x="242.73" y="399.70" width="30.99" height="1.00" fill="#1C86EE" fill-opacity="0.33"/>
<rect x="242.73" y="402.10" width="30.99" height="0.90" fill="#1C86EE" fill-opacity="0.44"/>
<rect x="242.73" y="406.90" width="30.99" height="0.90" fill="#1C86EE" fill-opacity="0.56"/>
<rect x="242.73" y="419.20" width="30.99" height="1.40" fill="#1C86EE" fill-opacity="0.22"/>
<rect x="242.73" y="427.90" width="30.99" height="0.90" fill="#1C86EE" fill-opacity="0.56"/>
<rect x="242.73" y="430.00" width="30.99" height="2.80" fill="#1C86EE" fill-opacity="0.56"/>
<rect x="242.73" y="435.90" width="30.99" height="0.80" fill="#1C86EE" fill-opacity="0.33"/>
<rect x="242.73" y="441.10" width="30.99" height="0.90" fill="#1C86EE" fill-opacity="0.56"/>
<rect x="242.73" y="444.10" width="30.99" height="0.80" fill="#1C86EE" fill-opacity="0.33"/>
<rect x="242.73" y="450.70" width="30.99" height="1.10" fill="#1C86EE" fill-opacity="0.44"/>
<rect x="242.73" y="454.40" width="30.99" height="0.90" fill="#1C86EE" fill-opacity="0.11"/>
<rect x="242.73" y="457.10" width="30.99" height="1.80" fill="#1C86EE" fill-opacity="0.22"/>
<rect x="242.73" y="472.20" width="30.99" height="0.70" fill="#1C86EE" fill-opacity="0.56"/>
<rect x="242.73" y="476.10" width="30.99" height="0.90" fill="#1C86EE" fill-opacity="0.56"/>
<rect x="242.73" y="480.90" width="30.99" height="0.80" fill="#1C86EE" fill-opacity="0.44"/>
<rect x="242.73" y="483.20" width="30.99" height="1.40" fill="#1C86EE" fill-opacity="0.22"/>
<rect x="242.73" y="485.90" width="30.99" height="1.40" fill="#1C86EE" fill-opacity="0.22"/>
<rect x="242.73" y="499.80" width="30.99" height="1.10" fill="#1C86EE" fill-opacity="0.67"/>
<rect x="242.73" y="503.10" width="30.99" height="0.80" fill="#1C86EE" fill-opacity="0.44"/>
<rect x="242.73" y="505.30" width="30.99" height="1.20" fill="#1C86EE" fill-opacity="0.44"/>
<rect x="242.73" y="511.90" width="30.99" height="0.80" fill="#1C86EE" fill-opacity="0.56"/>
<rect x="242.73" y="514.90" width="30.99" height="0.80" fill="#1C86EE" fill-opacity="0.56"/>
<rect x="242.73" y="516.80" width="30.99" height="0.80" fill="#1C86EE" fill-opacity="0.33"/>
<rect x="242.73" y="520.30" width="30.99" height="1.30" fill="#1C86EE" fill-opacity="0.44"/>
<rect x="242.73" y="526.70" width="30.99" height="0.80" fill="#1C86EE" fill-opacity="0.33"/>
<rect x="242.73" y="530.80" width="30.99" height="1.40" fill="#1C86EE" fill-opacity="0.33"/>
<rect x="242.73" y="535.80" width="30.99" height="0.90" fill="#1C86EE" fill-opacity="0.33"/>
<rect x="242.73" y="543.90" width="30.99" height="0.80" fill="#1C86EE" fill-opacity="0.56"/>
<rect x="242.73" y="547.90" width="30.99" height="1.00" fill="#1C86EE" fill-opacity="0.56"/>
<rect x="242.73" y="554.20" width="30.99" height="1.20" fill="#1C86EE" fill-opacity="0.33"/>
<rect x="242.73" y="557.20" width="30.99" height="1.30" fill="#1C86EE" fill-opacity="0.11"/>
<rect x="242.73" y="562.00" width="30.99" height="0.80" fill="#1C86EE" fill-opacity="0.33"/>
<rect x="242.73" y="570.90" width="30.99" height="0.90" fill="#1C86EE" fill-opacity="0.56"/>
<rect x="242.73" y="572.90" width="30.99" height="1.20" fill="#1C86EE" fill-opacity="0.44"/>
<rect x="242.73" y="578.90" width="30.99" height="0.90" fill="#1C86EE" fill-opacity="0.67"/>
<rect x="242.73" y="581.20" width="30.99" height="0.80" fill="#1C86EE" fill-opacity="0.33"/>
<rect x="242.73" y="583.30" width="30.99" height="0.80" fill="#1C86EE" fill-opacity="0.33"/>
<rect x="242.73" y="591.30" width="30.99" height="1.40" fill="#1C86EE" fill-opacity="0.44"/>
<rect x="242.73" y="635.90" width="30.99" height="1.10" fill="#1C86EE" fill-opacity="0.67"/>
<rect x="242.73" y="637.90" width="30.99" height="0.80" fill="#1C86EE" fill-opacity="0.56"/>
<rect x="242.73" y="640.50" width="30.99" height="1.40" fill="#1C86EE" fill-opacity="0.22"/>
<rect x="242.73" y="645.90" width="30.99" height="0.90" fill="#1C86EE" fill-opacity="0.56"/>
<rect x="242.73" y="648.10" width="30.99" height="0.70" fill="#1C86EE" fill-opacity="0.33"/>
<rect x="242.73" y="651.00" width="30.99" height="1.00" fill="#1C86EE" fill-opacity="0.56"/>
<rect x="273.72" y="98.00" width="30.99" height="0.90" fill="#1C86EE" fill-opacity="0.33"/>
<rect x="273.72" y="99.80" width="30.99" height="0.90" fill="#1C86EE" fill-opacity="0.44"/>
<rect x="273.72" y="101.60" width="30.99" height="0.90" fill="#1C86EE" fill-opacity="0.33"/>
<rect x="273.72" y="104.00" width="30.99" height="1.70" fill="#1C86EE" fill-opacity="0.33"/>
<rect x="273.72" y="113.40" width="30.99" height="2.20" fill="#1C86EE" fill-opacity="0.33"/>
<rect x="273.72" y="117.00" width="30.99" height="0.90" fill="#1C86EE" fill-opacity="0.44"/>
<rect x="273.72" y="119.20" width="30.99" height="1.00" fill="#1C86EE" fill-opacity="0.22"/>
<rect x="273.72" y="121.80" width="30.99" height="0.90" fill="#1C86EE" fill-opacity="0.22"/>
<rect x="273.72" y="123.80" width="30.99" height="0.90" fill="#1C86EE" fill-opacity="0.33"/>
<rect x="273.72" y="126.90" width="30.99" height="0.90" fill="#1C86EE" fill-opacity="0.33"/>
<rect x="273.72" y="132.80" width="30.99" height="0.90" fill="#1C86EE" fill-opacity="0.44"/>
<rect x="273.72" y="136.90" width="30.99" height="0.90" fill="#1C86EE" fill-opacity="0.33"/>
<rect x="273.72" y="138.70" width="30.99" height="0.90" fill="#1C86EE" fill-opacity="0.33"/>
<rect x="273.72" y="141.90" width="30.99" height="1.80" fill="#1C86EE" fill-opacity="0.33"/>
<rect x="273.72" y="146.90" width="30.99" height="0.90" fill="#1C86EE" fill-opacity="0.33"/>
<rect x="273.72" y="148.90" width="30.99" height="0.90" fill="#1C86EE" fill-opacity="0.22"/>
<rect x="273.72" y="150.90" width="30.99" height="0.70" fill="#1C86EE" fill-opacity="0.33"/>
<rect x="273.72" y="157.10" width="30.99" height="1.80" fill="#1C86EE" fill-opacity="0.44"/>
<rect x="273.72" y="163.80" width="30.99" height="1.80" fill="#1C86EE" fill-opacity="0.33"/>
<rect x="273.72" y="168.10" width="30.99" height="0.70" fill="#1C86EE" fill-opacity="0.33"/>
<rect x="273.72" y="172.90" width="30.99" height="0.90" fill="#1C86EE" fill-opacity="0.56"/>
<rect x="273.72" y="179.70" width="30.99" height="0.90" fill="#1C86EE" fill-opacity="0.33"/>
<rect x="273.72" y="181.90" width="30.99" height="2.10" fill="#1C86EE" fill-opacity="0.22"/>
<rect x="273.72" y="184.00" width="30.99" height="0.90" fill="#1C86EE" fill-opacity="0.56"/>
<rect x="273.72" y="186.90" width="30.99" height="0.90" fill="#1C86EE" fill-opacity="0.44"/>
<rect x="273.72" y="194.90" width="30.99" height="0.90" fill="#1C86EE" fill-opacity="0.44"/>
<rect x="273.72" y="201.90" width="30.99" height="0.90" fill="#1C86EE" fill-opacity="0.33"/>
<rect x="273.72" y="204.00" width="30.99" height="0.80" fill="#1C86EE" fill-opacity="0.44"/>
<rect x="273.72" y="206.60" width="30.99" height="2.20" fill="#1C86EE" fill-opacity="0.33"/>
<rect x="273.72" y="210.80" width="30.99" height="1.10" fill="#1C86EE" fill-opacity="0.67"/>
<rect x="273.72" y="214.90" width="30.99" height="0.80" fill="#1C86EE" fill-opacity="0.44"/>
<rect x="273.72" y="217.10" width="30.99" height="0.90" fill="#1C86EE" fill-opacity="0.67"/>
<rect x="273.72" y="222.80" width="30.99" height="1.10" fill="#1C86EE" fill-opacity="0.56"/>
<rect x="273.72" y="230.00" width="30.99" height="1.80" fill="#1C86EE" fill-opacity="0.22"/>
<rect x="273.72" y="235.90" width="30.99" height="0.90" fill="#1C86EE" fill-opacity="0.78"/>
<rect x="273.72" y="240.00" width="30.99" height="1.00" fill="#1C86EE" fill-opacity="0.44"/>
<rect x="273.72" y="243.00" width="30.99" height="1.10" fill="#1C86EE" fill-opacity="0.56"/>
<rect x="273.72" y="246.90" width="30.99" height="0.90" fill="#1C86EE" fill-opacity="0.44"/>
<rect x="273.72" y="248.90" width="30.99" height="0.80" fill="#1C86EE" fill-opacity="0.33"/>
<rect x="273.72" y="253.00" width="30.99" height="0.90" fill="#1C86EE" fill-opacity="0.78"/>
<rect x="273.72" y="255.80" width="30.99" height="1.10" fill="#1C86EE" fill-opacity="0.78"/>
<rect x="273.72" y="259.20" width="30.99" height="1.00" fill="#1C86EE" fill-opacity="0.33"/>
<rect x="273.72" y="267.40" width="30.99" height="1.40" fill="#1C86EE" fill-opacity="0.33"/>
<rect x="273.72" y="271.80" width="30.99" height="1.00" fill="#1C86EE" fill-opacity="0.56"/>
<rect x="273.72" y="275.00" width="30.99" height="0.80" fill="#1C86EE" fill-opacity="0.22"/>
<rect x="273.72" y="278.80" width="30.99" height="1.00" fill="#1C86EE" fill-opacity="0.56"/>
<rect x="273.72" y="281.20" width="30.99" height="0.90" fill="#1C86EE" fill-opacity="0.44"/>
<rect x="273.72" y="282.90" width="30.99" height="1.00" fill="#1C86EE" fill-opacity="0.44"/>
<rect x="273.72" y="286.00" width="30.99" height="0.80" fill="#1C86EE" fill-opacity="0.44"/>
<rect x="273.72" y="289.80" width="30.99" height="1.00" fill="#1C86EE" fill-opacity="0.67"/>
<rect x="273.72" y="295.60" width="30.99" height="1.10" fill="#1C86EE" fill-opacity="0.22"/>
<rect x="273.72" y="306.80" width="30.99" height="1.80" fill="#1C86EE" fill-opacity="0.44"/>
<rect x="273.72" y="314.80" width="30.99" height="0.80" fill="#1C86EE" fill-opacity="0.44"/>
<rect x="273.72" y="318.10" width="30.99" height="1.40" fill="#1C86EE" fill-opacity="0.33"/>
<rect x="273.72" y="321.10" width="30.99" height="1.40" fill="#1C86EE" fill-opacity="0.22"/>
<rect x="273.72" y="326.90" width="30.99" height="0.80" fill="#1C86EE" fill-opacity="0.56"/>
<rect x="273.72" y="330.00" width="30.99" height="1.00" fill="#1C86EE" fill-opacity="0.56"/>
<rect x="273.72" y="336.90" width="30.99" height="1.00" fill="#1C86EE" fill-opacity="0.22"/>
<rect x="273.72" y="345.80" width="30.99" height="0.80" fill="#1C86EE" fill-opacity="0.22"/>
<rect x="273.72" y="350.20" width="30.99" height="2.50" fill="#1C86EE" fill-opacity="0.33"/>
<rect x="273.72" y="355.00" width="30.99" height="0.80" fill="#1C86EE" fill-opacity="0.56"/>
<rect x="273.72" y="358.90" width="30.99" height="0.90" fill="#1C86EE" fill-opacity="0.67"/>
<rect x="273.72" y="362.00" width="30.99" height="0.80" fill="#1C86EE" fill-opacity="0.44"/>
<rect x="273.72" y="363.90" width="30.99" height="1.10" fill="#1C86EE" fill-opacity="0.56"/>
<rect x="273.72" y="365.90" width="30.99" height="0.80" fill="#1C86EE" fill-opacity="0.33"/>
<rect x="273.72" y="370.80" width="30.99" height="1.10" fill="#1C86EE" fill-opacity="0.56"/>
<rect x="273.72" y="382.90" width="30.99" height="0.90" fill="#1C86EE" fill-opacity="0.44"/>
<rect x="273.72" y="385.10" width="30.99" height="1.10" fill="#1C86EE" fill-opacity="0.56"/>
<rect x="273.72" y="390.00" width="30.99" height="0.80" fill="#1C86EE" fill-opacity="0.44"/>
<rect x="273.72" y="396.60" width="30.99" height="1.10" fill="#1C86EE" fill-opacity="0.33"/>
<rect x="273.72" y="399.10" width="30.99" height="0.90" fill="#1C86EE" fill-opacity="0.33"/>
<rect x="273.72" y="406.90" width="30.99" height="0.90" fill="#1C86EE" fill-opacity="0.56"/>
<rect x="273.72" y="409.90" width="30.99" height="1.10" fill="#1C86EE" fill-opacity="0.67"/>
<rect x="273.72" y="413.10" width="30.99" height="0.80" fill="#1C86EE" fill-opacity="0.33"/>
<rect x="273.72" y="421.00" width="30.99" height="1.70" fill="#1C86EE" fill-opacity="0.44"/>
<rect x="273.72" y="423.80" width="30.99" height="1.90" fill="#1C86EE" fill-opacity="0.67"/>
<rect x="273.72" y="430.00" width="30.99" height="0.60" fill="#1C86EE" fill-opacity="0.67"/>
<rect x="273.72" y="434.80" width="30.99" height="1.10" fill="#1C86EE" fill-opacity="0.22"/>
<rect x="273.72" y="437.00" width="30.99" height="1.60" fill="#1C86EE" fill-opacity="0.22"/>
<rect x="273.72" y="448.50" width="30.99" height="1.40" fill="#1C86EE" fill-opacity="0.44"/>
<rect x="273.72" y="453.00" width="30.99" height="2.80" fill="#1C86EE" fill-opacity="0.56"/>
<rect x="273.72" y="458.90" width="30.99" height="1.00" fill="#1C86EE" fill-opacity="0.44"/>
<rect x="273.72" y="472.60" width="30.99" height="1.10" fill="#1C86EE" fill-opacity="0.56"/>
<rect x="273.72" y="475.20" width="30.99" height="0.90" fill="#1C86EE" fill-opacity="0.22"/>
<rect x="273.72" y="477.00" width="30.99" height="0.90" fill="#1C86EE" fill-opacity="0.44"/>
<rect x="273.72" y="481.60" width="30.99" height="0.90" fill="#1C86EE" fill-opacity="0.67"/>
<rect x="273.72" y="485.90" width="30.99" height="1.00" fill="#1C86EE" fill-opacity="0.56"/>
<rect x="273.72" y="489.10" width="30.99" height="1.10" fill="#1C86EE" fill-opacity="0.33"/>
<rect x="273.72" y="492.10" width="30.99" height="0.80" fill="#1C86EE" fill-opacity="0.44"/>
<rect x="273.72" y="494.00" width="30.99" height="0.90" fill="#1C86EE" fill-opacity="0.56"/>
<rect x="273.72" y="503.10" width="30.99" height="0.80" fill="#1C86EE" fill-opacity="0.44"/>
<rect x="273.72" y="505.20" width="30.99" height="0.60" fill="#1C86EE" fill-opacity="0.44"/>
<rect x="273.72" y="511.10" width="30.99" height="0.80" fill="#1C86EE" fill-opacity="0.44"/>
<rect x="273.72" y="515.20" width="30.99" height="0.80" fill="#1C86EE" fill-opacity="0.22"/>
<rect x="273.72" y="520.90" width="30.99" height="0.90" fill="#1C86EE" fill-opacity="0.44"/>
<rect x="273.72" y="523.00" width="30.99" height="0.70" fill="#1C86EE" fill-opacity="0.33"/>
<rect x="273.72" y="527.80" width="30.99" height="0.80" fill="#1C86EE" fill-opacity="0.44"/>
<rect x="273.72" y="533.00" width="30.99" height="0.80" fill="#1C86EE" fill-opacity="0.33"/>
<rect x="273.72" y="536.00" width="30.99" height="0.90" fill="#1C86EE" fill-opacity="0.44"/>
<rect x="273.72" y="539.10" width="30.99" height="0.50" fill="#1C86EE" fill-opacity="0.33"/>
<rect x="273.72" y="545.00" width="30.99" height="0.90" fill="#1C86EE" fill-opacity="0.56"/>
<rect x="273.72" y="561.80" width="30.99" height="2.90" fill="#1C86EE" fill-opacity="0.78"/>
<rect x="273.72" y="570.00" width="30.99" height="0.90" fill="#1C86EE" fill-opacity="0.56"/>
<rect x="273.72" y="574.10" width="30.99" height="0.80" fill="#1C86EE" fill-opacity="0.44"/>
<rect x="273.72" y="579.10" width="30.99" height="0.70" fill="#1C86EE" fill-opacity="0.44"/>
<rect x="273.72" y="583.00" width="30.99" height="1.40" fill="#1C86EE" fill-opacity="0.44"/>
<rect x="273.72" y="587.00" width="30.99" height="0.90" fill="#1C86EE" fill-opacity="0.67"/>
<rect x="273.72" y="589.10" width="30.99" height="0.80" fill="#1C86EE" fill-opacity="0.33"/>
<rect x="273.72" y="591.90" width="30.99" height="0.80" fill="#1C86EE" fill-opacity="0.56"/>
<rect x="273.72" y="593.90" width="30.99" height="0.90" fill="#1C86EE" fill-opacity="0.56"/>
<rect x="273.72" y="597.90" width="30.99" height="0.90" fill="#1C86EE" fill-opacity="0.56"/>
<rect x="273.72" y="604.00" width="30.99" height="0.80" fill="#1C86EE" fill-opacity="0.33"/>
<rect x="273.72" y="606.00" width="30.99" height="0.80" fill="#1C86EE" fill-opacity="0.33"/>
<rect x="273.72" y="609.10" width="30.99" height="0.90" fill="#1C86EE" fill-opacity="0.33"/>
<rect x="273.72" y="623.20" width="30.99" height="0.90" fill="#1C86EE" fill-opacity="0.33"/>
<rect x="273.72" y="627.00" width="30.99" height="0.80" fill="#1C86EE" fill-opacity="0.33"/>
<rect x="273.72" y="630.40" width="30.99" height="1.20" fill="#1C86EE" fill-opacity="0.33"/>
<rect x="273.72" y="639.90" width="30.99" height="1.40" fill="#1C86EE" fill-opacity="0.33"/>
<rect x="273.72" y="642.50" width="30.99" height="1.10" fill="#1C86EE" fill-opacity="0.56"/>
<rect x="273.72" y="648.10" width="30.99" height="0.70" fill="#1C86EE" fill-opacity="0.44"/>
<rect x="273.72" y="652.80" width="30.99" height="1.00" fill="#1C86EE" fill-opacity="0.22"/>
<rect x="273.72" y="656.70" width="30.99" height="1.00" fill="#1C86EE" fill-opacity="0.44"/>
<rect x="304.71" y="99.90" width="30.99" height="0.80" fill="#1C86EE" fill-opacity="0.56"/>
<rect x="304.71" y="112.90" width="30.99" height="1.00" fill="#1C86EE" fill-opacity="0.56"/>
<rect x="304.71" y="121.10" width="30.99" height="0.70" fill="#1C86EE" fill-opacity="0.33"/>
<rect x="304.71" y="124.80" width="30.99" height="1.10" fill="#1C86EE" fill-opacity="0.56"/>
<rect x="304.71" y="129.40" width="30.99" height="0.90" fill="#1C86EE" fill-opacity="0.22"/>
<rect x="304.71" y="132.10" width="30.99" height="1.00" fill="#1C86EE" fill-opacity="0.44"/>
<rect x="304.71" y="136.90" width="30.99" height="1.10" fill="#1C86EE" fill-opacity="0.33"/>
<rect x="304.71" y="139.00" width="30.99" height="1.80" fill="#1C86EE" fill-opacity="0.44"/>
<rect x="304.71" y="148.60" width="30.99" height="1.10" fill="#1C86EE" fill-opacity="0.56"/>
<rect x="304.71" y="152.30" width="30.99" height="1.10" fill="#1C86EE" fill-opacity="0.22"/>
<rect x="304.71" y="166.80" width="30.99" height="1.00" fill="#1C86EE" fill-opacity="0.44"/>
<rect x="304.71" y="192.50" width="30.99" height="1.40" fill="#1C86EE" fill-opacity="0.22"/>
<rect x="304.71" y="208.80" width="30.99" height="1.00" fill="#1C86EE" fill-opacity="0.44"/>
<rect x="304.71" y="210.80" width="30.99" height="1.10" fill="#1C86EE" fill-opacity="0.44"/>
<rect x="304.71" y="223.90" width="30.99" height="1.00" fill="#1C86EE" fill-opacity="0.33"/>
<rect x="304.71" y="232.90" width="30.99" height="0.90" fill="#1C86EE" fill-opacity="0.56"/>
<rect x="304.71" y="251.00" width="30.99" height="0.70" fill="#1C86EE" fill-opacity="0.33"/>
<rect x="304.71" y="252.80" width="30.99" height="1.10" fill="#1C86EE" fill-opacity="0.22"/>
<rect x="304.71" y="260.60" width="30.99" height="0.90" fill="#1C86EE" fill-opacity="0.33"/>
<rect x="304.71" y="265.00" width="30.99" height="0.80" fill="#1C86EE" fill-opacity="0.33"/>
<rect x="304.71" y="277.70" width="30.99" height="1.00" fill="#1C86EE" fill-opacity="0.44"/>
<rect x="304.71" y="281.80" width="30.99" height="1.00" fill="#1C86EE" fill-opacity="0.56"/>
<rect x="304.71" y="289.40" width="30.99" height="1.40" fill="#1C86EE" fill-opacity="0.22"/>
<rect x="304.71" y="292.80" width="30.99" height="1.00" fill="#1C86EE" fill-opacity="0.56"/>
<rect x="304.71" y="310.90" width="30.99" height="1.80" fill="#1C86EE" fill-opacity="0.44"/>
<rect x="304.71" y="321.10" width="30.99" height="1.10" fill="#1C86EE" fill-opacity="0.22"/>
<rect x="304.71" y="323.90" width="30.99" height="0.90" fill="#1C86EE" fill-opacity="0.67"/>
<rect x="304.71" y="330.70" width="30.99" height="1.10" fill="#1C86EE" fill-opacity="0.33"/>
<rect x="304.71" y="345.80" width="30.99" height="2.50" fill="#1C86EE" fill-opacity="0.22"/>
<rect x="304.71" y="349.90" width="30.99" height="0.90" fill="#1C86EE" fill-opacity="0.56"/>
<rect x="304.71" y="362.60" width="30.99" height="1.10" fill="#1C86EE" fill-opacity="0.22"/>
<rect x="304.71" y="369.80" width="30.99" height="1.00" fill="#1C86EE" fill-opacity="0.44"/>
<rect x="304.71" y="374.90" width="30.99" height="1.10" fill="#1C86EE" fill-opacity="0.78"/>
<rect x="304.71" y="389.00" width="30.99" height="1.40" fill="#1C86EE" fill-opacity="0.22"/>
<rect x="304.71" y="396.30" width="30.99" height="1.40" fill="#1C86EE" fill-opacity="0.22"/>
<rect x="304.71" y="401.00" width="30.99" height="1.10" fill="#1C86EE" fill-opacity="0.22"/>
<rect x="304.71" y="403.70" width="30.99" height="1.10" fill="#1C86EE" fill-opacity="0.33"/>
<rect x="304.71" y="422.90" width="30.99" height="1.40" fill="#1C86EE" fill-opacity="0.22"/>
<rect x="304.71" y="435.00" width="30.99" height="0.90" fill="#1C86EE" fill-opacity="0.56"/>
<rect x="304.71" y="440.00" width="30.99" height="0.80" fill="#1C86EE" fill-opacity="0.44"/>
<rect x="304.71" y="449.00" width="30.99" height="0.90" fill="#1C86EE" fill-opacity="0.44"/>
<rect x="304.71" y="454.40" width="30.99" height="0.90" fill="#1C86EE" fill-opacity="0.11"/>
<rect x="304.71" y="486.90" width="30.99" height="1.10" fill="#1C86EE" fill-opacity="0.78"/>
<rect x="304.71" y="503.80" width="30.99" height="0.90" fill="#1C86EE" fill-opacity="0.33"/>
<rect x="304.71" y="511.10" width="30.99" height="0.80" fill="#1C86EE" fill-opacity="0.44"/>
<rect x="304.71" y="527.80" width="30.99" height="0.80" fill="#1C86EE" fill-opacity="0.44"/>
<rect x="304.71" y="542.10" width="30.99" height="0.90" fill="#1C86EE" fill-opacity="0.33"/>
<rect x="304.71" y="556.10" width="30.99" height="1.90" fill="#1C86EE" fill-opacity="0.56"/>
<rect x="304.71" y="559.00" width="30.99" height="1.00" fill="#1C86EE" fill-opacity="0.44"/>
<rect x="304.71" y="561.10" width="30.99" height="1.00" fill="#1C86EE" fill-opacity="0.33"/>
<rect x="304.71" y="562.80" width="30.99" height="0.90" fill="#1C86EE" fill-opacity="0.44"/>
<rect x="304.71" y="579.10" width="30.99" height="0.70" fill="#1C86EE" fill-opacity="0.44"/>
<rect x="304.71" y="589.90" width="30.99" height="1.70" fill="#1C86EE" fill-opacity="0.11"/>
<rect x="304.71" y="593.00" width="30.99" height="0.90" fill="#1C86EE" fill-opacity="0.44"/>
<rect x="304.71" y="606.00" width="30.99" height="0.80" fill="#1C86EE" fill-opacity="0.56"/>
<rect x="304.71" y="618.00" width="30.99" height="0.90" fill="#1C86EE" fill-opacity="0.33"/>
<rect x="304.71" y="643.00" width="30.99" height="0.90" fill="#1C86EE" fill-opacity="0.33"/>
<rect x="304.71" y="647.10" width="30.99" height="0.80" fill="#1C86EE" fill-opacity="0.44"/>
<defs><pattern id="gp" x="0" y="0.3" width="20" height="2.1" patternUnits="userSpaceOnUse"><rect width="20" height="2.1" fill="#66A61E"/><rect y="1.40" width="20" height="0.7" fill="#7CB43E"/></pattern><pattern id="pp" x="0" y="0.3" width="20" height="2.1" patternUnits="userSpaceOnUse"><rect width="20" height="2.1" fill="#DADAEB"/><rect y="1.40" width="20" height="0.7" fill="#E0E0EE"/></pattern><pattern id="kp" x="0" y="0.3" width="20" height="2.3" patternUnits="userSpaceOnUse"><rect width="20" height="2.3" fill="#E7298A"/><rect y="1.70" width="20" height="0.6" fill="#EE4C9D"/></pattern><pattern id="vp" x="0" y="0.3" width="20" height="2.7" patternUnits="userSpaceOnUse"><rect width="20" height="2.7" fill="#7570B3"/><rect y="2.10" width="20" height="0.6" fill="#8A86C0"/></pattern><pattern id="p2" x="0" y="0.3" width="20" height="2.2" patternUnits="userSpaceOnUse"><rect width="20" height="2.2" fill="#BCBDDC"/><rect y="1.60" width="20" height="0.6" fill="#C6C7E2"/></pattern></defs>
<rect x="339.0" y="94.0" width="18.0" height="1.80" fill="#1B9E77"/>
<rect x="339.0" y="98.1" width="18.0" height="0.80" fill="#1B9E77" fill-opacity="0.85"/>
<rect x="339.0" y="105.1" width="18.0" height="2.90" fill="#1B9E77" fill-opacity="0.25"/>
<rect x="339.0" y="110.1" width="18.0" height="1.60" fill="#1B9E77"/>
<rect x="339.0" y="135.5" width="18.0" height="1.40" fill="#1B9E77"/>
<rect x="339.0" y="145.3" width="18.0" height="1.40" fill="#1B9E77"/>
<rect x="339.0" y="187.4" width="18.0" height="1.40" fill="#1B9E77"/>
<rect x="357.0" y="94.0" width="18.0" height="3.70" fill="#D95F02"/>
<rect x="357.0" y="99.1" width="18.0" height="1.60" fill="#D95F02" fill-opacity="0.85"/>
<rect x="357.0" y="105.4" width="18.0" height="1.90" fill="#D95F02" fill-opacity="0.75"/>
<rect x="357.0" y="133.2" width="18.0" height="2.00" fill="#D95F02"/>
<rect x="357.0" y="169.5" width="18.0" height="1.40" fill="#D95F02"/>
<rect x="375.0" y="94.0" width="18.0" height="15.70" fill="url(#vp)"/>
<rect x="375.0" y="133.1" width="18.0" height="11.70" fill="url(#vp)"/>
<rect x="375.0" y="171.1" width="18.0" height="16.30" fill="url(#vp)"/>
<rect x="393.0" y="94.0" width="18.0" height="11.30" fill="url(#kp)"/>
<rect x="393.0" y="107.1" width="18.0" height="25.60" fill="url(#kp)"/>
<rect x="393.0" y="147.1" width="18.0" height="21.70" fill="url(#kp)"/>
<rect x="411.0" y="94.0" width="18.0" height="4.80" fill="#66A61E"/>
<rect x="411.0" y="100.1" width="18.0" height="6.70" fill="url(#gp)"/>
<rect x="411.0" y="111.5" width="18.0" height="21.20" fill="url(#gp)"/>
<rect x="411.0" y="137.3" width="18.0" height="9.40" fill="url(#gp)"/>
<rect x="411.0" y="189.2" width="18.0" height="469.30" fill="url(#gp)"/>
<rect x="375" y="100.2" width="18" height="0.70" fill="#A7A4D2"/>
<rect x="375" y="104.8" width="18" height="0.60" fill="#A7A4D2"/>
<rect x="375" y="107.2" width="18" height="0.80" fill="#A7A4D2"/>
<rect x="429.8" y="94.0" width="18.7" height="2.10" fill="#6A51A3"/>
<rect x="429.8" y="96.1" width="18.7" height="2.70" fill="#807DBA"/>
<rect x="429.8" y="98.8" width="18.7" height="8.30" fill="#9E9AC8"/>
<rect x="429.8" y="107.1" width="18.7" height="39.50" fill="url(#p2)"/>
<rect x="429.8" y="146.6" width="18.7" height="511.90" fill="url(#pp)"/>
<text transform="translate(46.8,376.2) rotate(-90)" font-size="16.4" text-anchor="middle">CpG sites</text>
<text x="196.2" y="824.1" font-size="16.2" text-anchor="middle">Treatment exposures</text>
<text transform="translate(76.13,669.0) rotate(-50)" font-size="15.2" text-anchor="end">Body−trunk−RT</text>
<text transform="translate(107.12,669.0) rotate(-50)" font-size="15.2" text-anchor="end">Brain−RT</text>
<text transform="translate(138.11,669.0) rotate(-50)" font-size="15.2" text-anchor="end">Alkylating agents, classic</text>
<text transform="translate(169.10,669.0) rotate(-50)" font-size="15.2" text-anchor="end">Asparaginase enzymes</text>
<text transform="translate(200.09,669.0) rotate(-50)" font-size="15.2" text-anchor="end">Antimetabolites</text>
<text transform="translate(231.08,669.0) rotate(-50)" font-size="15.2" text-anchor="end">Anthracyclines</text>
<text transform="translate(262.07,669.0) rotate(-50)" font-size="15.2" text-anchor="end">Epipodophyllotoxins</text>
<text transform="translate(293.06,669.0) rotate(-50)" font-size="15.2" text-anchor="end">Corticosteroids</text>
<text transform="translate(324.05,669.0) rotate(-50)" font-size="15.2" text-anchor="end">Vinca alkaloids</text>
<text transform="translate(353.00,662.6) rotate(-90)" font-size="15.2" text-anchor="end">Hypertension</text>
<text transform="translate(371.00,662.6) rotate(-90)" font-size="15.2" text-anchor="end">Hypercholesterolemia</text>
<text transform="translate(389.00,662.6) rotate(-90)" font-size="15.2" text-anchor="end">Hypertriglyceridemia</text>
<text transform="translate(407.00,662.6) rotate(-90)" font-size="15.2" text-anchor="end">Abnormal glucose</text>
<text transform="translate(425.00,662.6) rotate(-90)" font-size="15.2" text-anchor="end">Obesity</text>
<text transform="translate(444.30,662.6) rotate(-90)" font-size="15.2" text-anchor="end">Associated CMRF count</text>
<text x="539.2" y="253" font-size="12.6" font-weight="bold">BH p−value &lt; 0.05</text>
<rect x="539.2" y="261" width="13.5" height="13" fill="#F2F2F2"/>
<rect x="539.2" y="275.2" width="13.5" height="13.4" fill="#1C86EE"/>
<text x="557.6" y="272" font-size="12.5">Not significant</text>
<text x="557.6" y="286.3" font-size="12.5">Significant</text>
<text x="539.2" y="312" font-size="12.6" font-weight="bold">CMRF associations</text>
<rect x="539.2" y="320.20" width="13.5" height="13.2" fill="#E7298A"/>
<text x="557.6" y="331.20" font-size="12.5">Abnormal glucose</text>
<rect x="539.2" y="334.55" width="13.5" height="13.2" fill="#D95F02"/>
<text x="557.6" y="345.55" font-size="12.5">Hypercholesterolemia</text>
<rect x="539.2" y="348.90" width="13.5" height="13.2" fill="#1B9E77"/>
<text x="557.6" y="359.90" font-size="12.5">Hypertension</text>
<rect x="539.2" y="363.25" width="13.5" height="13.2" fill="#7570B3"/>
<text x="557.6" y="374.25" font-size="12.5">Hypertriglyceridemia</text>
<text x="557.6" y="388.60" font-size="12.5">None</text>
<rect x="539.2" y="391.95" width="13.5" height="13.2" fill="#66A61E"/>
<text x="557.6" y="402.95" font-size="12.5">Obesity</text>
<text x="539.2" y="429.4" font-size="12.75" font-weight="bold">Associated CMRF count</text>
<rect x="539.2" y="437.40" width="13.5" height="13.2" fill="#DADAEB"/>
<text x="557.6" y="448.40" font-size="12.5">1</text>
<rect x="539.2" y="451.75" width="13.5" height="13.2" fill="#BCBDDC"/>
<text x="557.6" y="462.75" font-size="12.5">2</text>
<rect x="539.2" y="466.10" width="13.5" height="13.2" fill="#9E9AC8"/>
<text x="557.6" y="477.10" font-size="12.5">3</text>
<rect x="539.2" y="480.45" width="13.5" height="13.2" fill="#807DBA"/>
<text x="557.6" y="491.45" font-size="12.5">4</text>
<rect x="539.2" y="494.80" width="13.5" height="13.2" fill="#6A51A3"/>
<text x="557.6" y="505.80" font-size="12.5">5</text>
</svg></body></html>
